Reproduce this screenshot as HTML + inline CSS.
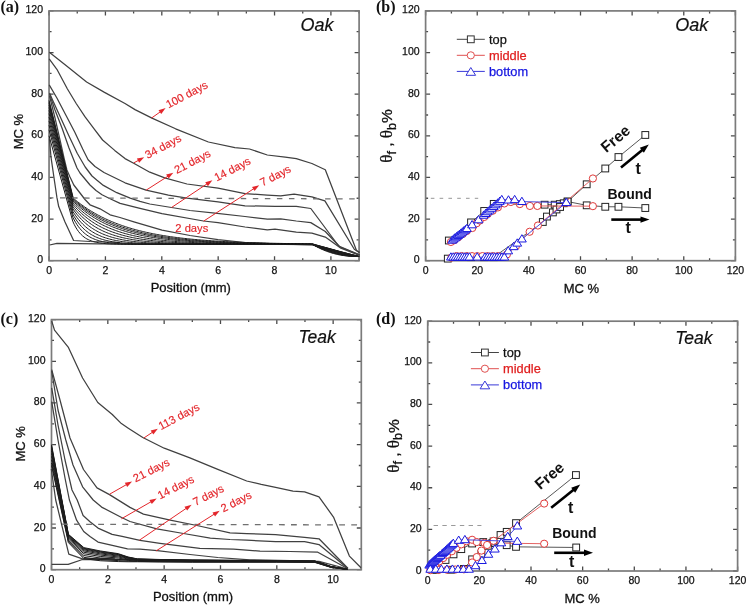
<!DOCTYPE html>
<html><head><meta charset="utf-8"><style>
html,body{margin:0;padding:0;background:#fff;}
svg{display:block;will-change:transform;}
text{font-family:"Liberation Sans", sans-serif;}
.tl{font-size:10.5px;fill:#111;stroke:#111;stroke-width:0.25px;}
.ax{font-size:13px;fill:#111;stroke:#111;stroke-width:0.3px;}
.lab{font-size:11.2px;fill:#e3262b;stroke:#e3262b;stroke-width:0.15px;}
.pl{font-family:"Liberation Serif",serif;font-weight:bold;font-size:16px;fill:#111;}
.ttl{font-size:18px;font-style:italic;fill:#111;stroke:#111;stroke-width:0.2px;}
.bd{font-size:14px;font-weight:bold;fill:#111;}
.fr{font-size:15.5px;}
.tt{font-size:16px;}
.lg{font-size:12.8px;stroke-width:0.25px;}
</style></head><body>
<svg width="747" height="605" viewBox="0 0 747 605">
<rect width="747" height="605" fill="#fff"/>
<path d="M49.05 260.70h4.5M359.10 260.70h-4.5M49.05 239.88h2.5M359.10 239.88h-2.5M49.05 219.07h4.5M359.10 219.07h-4.5M49.05 198.25h2.5M359.10 198.25h-2.5M49.05 177.43h4.5M359.10 177.43h-4.5M49.05 156.62h2.5M359.10 156.62h-2.5M49.05 135.80h4.5M359.10 135.80h-4.5M49.05 114.98h2.5M359.10 114.98h-2.5M49.05 94.17h4.5M359.10 94.17h-4.5M49.05 73.35h2.5M359.10 73.35h-2.5M49.05 52.53h4.5M359.10 52.53h-4.5M49.05 31.72h2.5M359.10 31.72h-2.5M49.05 10.90h4.5M359.10 10.90h-4.5M49.05 260.70v-4.5M49.05 10.90v4.5M77.24 260.70v-2.5M77.24 10.90v2.5M105.42 260.70v-4.5M105.42 10.90v4.5M133.61 260.70v-2.5M133.61 10.90v2.5M161.80 260.70v-4.5M161.80 10.90v4.5M189.98 260.70v-2.5M189.98 10.90v2.5M218.17 260.70v-4.5M218.17 10.90v4.5M246.35 260.70v-2.5M246.35 10.90v2.5M274.54 260.70v-4.5M274.54 10.90v4.5M302.73 260.70v-2.5M302.73 10.90v2.5M330.91 260.70v-4.5M330.91 10.90v4.5M359.10 260.70v-2.5M359.10 10.90v2.5" stroke="#4a4a4a" stroke-width="1.3" fill="none"/>
<rect x="49.05" y="10.90" width="310.05" height="249.80" fill="none" stroke="#7b7b7b" stroke-width="1.7"/>
<text x="43.05" y="263.20" text-anchor="end" class="tl">0</text>
<text x="43.05" y="221.57" text-anchor="end" class="tl">20</text>
<text x="43.05" y="179.93" text-anchor="end" class="tl">40</text>
<text x="43.05" y="138.30" text-anchor="end" class="tl">60</text>
<text x="43.05" y="96.67" text-anchor="end" class="tl">80</text>
<text x="43.05" y="55.03" text-anchor="end" class="tl">100</text>
<text x="43.05" y="13.40" text-anchor="end" class="tl">120</text>
<text x="49.05" y="273.60" text-anchor="middle" class="tl">0</text>
<text x="105.42" y="273.60" text-anchor="middle" class="tl">2</text>
<text x="161.80" y="273.60" text-anchor="middle" class="tl">4</text>
<text x="218.17" y="273.60" text-anchor="middle" class="tl">6</text>
<text x="274.54" y="273.60" text-anchor="middle" class="tl">8</text>
<text x="330.91" y="273.60" text-anchor="middle" class="tl">10</text>
<path d="M425.60 260.70h4.5M735.40 260.70h-4.5M425.60 239.88h2.5M735.40 239.88h-2.5M425.60 219.07h4.5M735.40 219.07h-4.5M425.60 198.25h2.5M735.40 198.25h-2.5M425.60 177.43h4.5M735.40 177.43h-4.5M425.60 156.62h2.5M735.40 156.62h-2.5M425.60 135.80h4.5M735.40 135.80h-4.5M425.60 114.98h2.5M735.40 114.98h-2.5M425.60 94.17h4.5M735.40 94.17h-4.5M425.60 73.35h2.5M735.40 73.35h-2.5M425.60 52.53h4.5M735.40 52.53h-4.5M425.60 31.72h2.5M735.40 31.72h-2.5M425.60 10.90h4.5M735.40 10.90h-4.5M425.60 260.70v-4.5M425.60 10.90v4.5M451.42 260.70v-2.5M451.42 10.90v2.5M477.23 260.70v-4.5M477.23 10.90v4.5M503.05 260.70v-2.5M503.05 10.90v2.5M528.87 260.70v-4.5M528.87 10.90v4.5M554.68 260.70v-2.5M554.68 10.90v2.5M580.50 260.70v-4.5M580.50 10.90v4.5M606.32 260.70v-2.5M606.32 10.90v2.5M632.13 260.70v-4.5M632.13 10.90v4.5M657.95 260.70v-2.5M657.95 10.90v2.5M683.77 260.70v-4.5M683.77 10.90v4.5M709.58 260.70v-2.5M709.58 10.90v2.5M735.40 260.70v-4.5M735.40 10.90v4.5" stroke="#4a4a4a" stroke-width="1.3" fill="none"/>
<rect x="425.60" y="10.90" width="309.80" height="249.80" fill="none" stroke="#7b7b7b" stroke-width="1.7"/>
<text x="419.60" y="263.20" text-anchor="end" class="tl">0</text>
<text x="419.60" y="221.57" text-anchor="end" class="tl">20</text>
<text x="419.60" y="179.93" text-anchor="end" class="tl">40</text>
<text x="419.60" y="138.30" text-anchor="end" class="tl">60</text>
<text x="419.60" y="96.67" text-anchor="end" class="tl">80</text>
<text x="419.60" y="55.03" text-anchor="end" class="tl">100</text>
<text x="419.60" y="13.40" text-anchor="end" class="tl">120</text>
<text x="425.60" y="273.60" text-anchor="middle" class="tl">0</text>
<text x="477.23" y="273.60" text-anchor="middle" class="tl">20</text>
<text x="528.87" y="273.60" text-anchor="middle" class="tl">40</text>
<text x="580.50" y="273.60" text-anchor="middle" class="tl">60</text>
<text x="632.13" y="273.60" text-anchor="middle" class="tl">80</text>
<text x="683.77" y="273.60" text-anchor="middle" class="tl">100</text>
<text x="735.40" y="273.60" text-anchor="middle" class="tl">120</text>
<path d="M51.50 569.70h4.5M361.30 569.70h-4.5M51.50 548.86h2.5M361.30 548.86h-2.5M51.50 528.02h4.5M361.30 528.02h-4.5M51.50 507.18h2.5M361.30 507.18h-2.5M51.50 486.33h4.5M361.30 486.33h-4.5M51.50 465.49h2.5M361.30 465.49h-2.5M51.50 444.65h4.5M361.30 444.65h-4.5M51.50 423.81h2.5M361.30 423.81h-2.5M51.50 402.97h4.5M361.30 402.97h-4.5M51.50 382.12h2.5M361.30 382.12h-2.5M51.50 361.28h4.5M361.30 361.28h-4.5M51.50 340.44h2.5M361.30 340.44h-2.5M51.50 319.60h4.5M361.30 319.60h-4.5M51.50 569.70v-4.5M51.50 319.60v4.5M79.66 569.70v-2.5M79.66 319.60v2.5M107.83 569.70v-4.5M107.83 319.60v4.5M135.99 569.70v-2.5M135.99 319.60v2.5M164.15 569.70v-4.5M164.15 319.60v4.5M192.32 569.70v-2.5M192.32 319.60v2.5M220.48 569.70v-4.5M220.48 319.60v4.5M248.65 569.70v-2.5M248.65 319.60v2.5M276.81 569.70v-4.5M276.81 319.60v4.5M304.97 569.70v-2.5M304.97 319.60v2.5M333.14 569.70v-4.5M333.14 319.60v4.5M361.30 569.70v-2.5M361.30 319.60v2.5" stroke="#4a4a4a" stroke-width="1.3" fill="none"/>
<rect x="51.50" y="319.60" width="309.80" height="250.10" fill="none" stroke="#7b7b7b" stroke-width="1.7"/>
<text x="45.50" y="572.20" text-anchor="end" class="tl">0</text>
<text x="45.50" y="530.52" text-anchor="end" class="tl">20</text>
<text x="45.50" y="488.83" text-anchor="end" class="tl">40</text>
<text x="45.50" y="447.15" text-anchor="end" class="tl">60</text>
<text x="45.50" y="405.47" text-anchor="end" class="tl">80</text>
<text x="45.50" y="363.78" text-anchor="end" class="tl">100</text>
<text x="45.50" y="322.10" text-anchor="end" class="tl">120</text>
<text x="51.50" y="582.60" text-anchor="middle" class="tl">0</text>
<text x="107.83" y="582.60" text-anchor="middle" class="tl">2</text>
<text x="164.15" y="582.60" text-anchor="middle" class="tl">4</text>
<text x="220.48" y="582.60" text-anchor="middle" class="tl">6</text>
<text x="276.81" y="582.60" text-anchor="middle" class="tl">8</text>
<text x="333.14" y="582.60" text-anchor="middle" class="tl">10</text>
<path d="M427.70 571.00h4.5M737.60 571.00h-4.5M427.70 550.18h2.5M737.60 550.18h-2.5M427.70 529.37h4.5M737.60 529.37h-4.5M427.70 508.55h2.5M737.60 508.55h-2.5M427.70 487.73h4.5M737.60 487.73h-4.5M427.70 466.92h2.5M737.60 466.92h-2.5M427.70 446.10h4.5M737.60 446.10h-4.5M427.70 425.28h2.5M737.60 425.28h-2.5M427.70 404.47h4.5M737.60 404.47h-4.5M427.70 383.65h2.5M737.60 383.65h-2.5M427.70 362.83h4.5M737.60 362.83h-4.5M427.70 342.02h2.5M737.60 342.02h-2.5M427.70 321.20h4.5M737.60 321.20h-4.5M427.70 571.00v-4.5M427.70 321.20v4.5M453.52 571.00v-2.5M453.52 321.20v2.5M479.35 571.00v-4.5M479.35 321.20v4.5M505.18 571.00v-2.5M505.18 321.20v2.5M531.00 571.00v-4.5M531.00 321.20v4.5M556.83 571.00v-2.5M556.83 321.20v2.5M582.65 571.00v-4.5M582.65 321.20v4.5M608.48 571.00v-2.5M608.48 321.20v2.5M634.30 571.00v-4.5M634.30 321.20v4.5M660.12 571.00v-2.5M660.12 321.20v2.5M685.95 571.00v-4.5M685.95 321.20v4.5M711.78 571.00v-2.5M711.78 321.20v2.5M737.60 571.00v-4.5M737.60 321.20v4.5" stroke="#4a4a4a" stroke-width="1.3" fill="none"/>
<rect x="427.70" y="321.20" width="309.90" height="249.80" fill="none" stroke="#7b7b7b" stroke-width="1.7"/>
<text x="421.70" y="573.50" text-anchor="end" class="tl">0</text>
<text x="421.70" y="531.87" text-anchor="end" class="tl">20</text>
<text x="421.70" y="490.23" text-anchor="end" class="tl">40</text>
<text x="421.70" y="448.60" text-anchor="end" class="tl">60</text>
<text x="421.70" y="406.97" text-anchor="end" class="tl">80</text>
<text x="421.70" y="365.33" text-anchor="end" class="tl">100</text>
<text x="421.70" y="323.70" text-anchor="end" class="tl">120</text>
<text x="427.70" y="583.90" text-anchor="middle" class="tl">0</text>
<text x="479.35" y="583.90" text-anchor="middle" class="tl">20</text>
<text x="531.00" y="583.90" text-anchor="middle" class="tl">40</text>
<text x="582.65" y="583.90" text-anchor="middle" class="tl">60</text>
<text x="634.30" y="583.90" text-anchor="middle" class="tl">80</text>
<text x="685.95" y="583.90" text-anchor="middle" class="tl">100</text>
<text x="737.60" y="583.90" text-anchor="middle" class="tl">120</text>
<text x="0.5" y="12" class="pl">(a)</text>
<text x="376" y="12" class="pl">(b)</text>
<text x="0.5" y="323.5" class="pl">(c)</text>
<text x="376" y="324.2" class="pl">(d)</text>
<text x="300.5" y="31.3" class="ttl">Oak</text>
<text x="675.2" y="31.3" class="ttl">Oak</text>
<text x="298.5" y="343.4" class="ttl" style="font-size:17.5px">Teak</text>
<text x="675.2" y="343.6" class="ttl" style="font-size:17.5px">Teak</text>
<text x="190.8" y="292.1" text-anchor="middle" class="ax">Position (mm)</text>
<text x="581.4" y="293.3" text-anchor="middle" class="ax">MC %</text>
<text x="193" y="600.8" text-anchor="middle" class="ax">Position (mm)</text>
<text x="582.2" y="603.1" text-anchor="middle" class="ax">MC %</text>
<text x="0" y="0" transform="translate(23.4 131.6) rotate(-90)" text-anchor="middle" class="ax">MC %</text>
<text x="0" y="0" transform="translate(24.7 443.9) rotate(-90)" text-anchor="middle" class="ax">MC %</text>
<text x="0" y="0" transform="translate(392 136) rotate(-90)" text-anchor="middle" class="ax" style="font-size:15.5px"><tspan font-family="Liberation Serif, serif" font-size="17px">&#952;</tspan><tspan dy="3.5" font-size="12.5px">f</tspan><tspan dy="-3.5"> , </tspan><tspan font-family="Liberation Serif, serif" font-size="17px">&#952;</tspan><tspan dy="3.5" font-size="12.5px">b</tspan><tspan dy="-3.5">%</tspan></text>
<text x="0" y="0" transform="translate(398.7 446) rotate(-90)" text-anchor="middle" class="ax" style="font-size:15.5px"><tspan font-family="Liberation Serif, serif" font-size="17px">&#952;</tspan><tspan dy="3.5" font-size="12.5px">f</tspan><tspan dy="-3.5"> , </tspan><tspan font-family="Liberation Serif, serif" font-size="17px">&#952;</tspan><tspan dy="3.5" font-size="12.5px">b</tspan><tspan dy="-3.5">%</tspan></text>
<path d="M49.30 52.20 L67.30 66.40 L86.60 82.00 L104.50 92.40 L125.00 103.50 L135.00 109.60 L152.00 118.10 L175.60 128.80 L208.40 142.00 L234.90 147.60 L249.50 149.00 L267.30 155.00 L285.20 157.20 L296.30 158.60 L311.90 163.50 L325.30 169.70 L356.50 250.50 L359.60 252.20" stroke="#404040" stroke-width="1.25" fill="none" stroke-linejoin="round" />
<path d="M49.20 58.90 L56.90 69.30 L67.30 88.70 L76.20 103.50 L85.10 116.90 L94.10 128.80 L102.60 140.00 L114.70 150.40 L125.00 158.60 L133.70 163.20 L149.80 172.20 L164.70 177.80 L187.00 184.00 L218.00 188.20 L245.00 193.60 L267.30 195.10 L280.70 195.80 L294.10 194.20 L311.90 196.90 L324.90 200.90 L354.30 249.30 L359.60 252.70" stroke="#404040" stroke-width="1.25" fill="none" stroke-linejoin="round" />
<path d="M49.20 84.90 L56.90 98.00 L65.80 115.00 L74.70 132.00 L82.70 149.00 L88.10 159.70 L95.00 166.50 L104.00 172.50 L125.00 182.80 L146.10 190.20 L168.40 195.10 L187.00 198.20 L218.00 201.80 L245.00 205.80 L275.00 206.40 L296.30 206.30 L310.80 208.50 L338.70 246.00 L359.60 254.90" stroke="#404040" stroke-width="1.25" fill="none" stroke-linejoin="round" />
<path d="M49.50 93.00 L53.00 100.90 L61.00 118.60 L69.10 136.20 L77.20 153.30 L85.20 167.00 L92.00 176.00 L96.70 180.00 L103.40 185.40 L116.80 192.70 L130.20 198.10 L140.00 201.40 L149.80 204.00 L171.50 207.50 L190.00 210.50 L215.00 213.10 L245.00 216.50 L267.30 219.20 L280.70 218.80 L296.30 221.00 L310.80 222.60 L325.30 231.50 L340.00 247.00 L359.60 255.00" stroke="#404040" stroke-width="1.25" fill="none" stroke-linejoin="round" />
<path d="M49.50 94.00 L55.00 110.00 L62.00 128.00 L69.00 148.00 L77.00 168.00 L80.00 173.00 L90.00 185.00 L96.00 190.50 L102.00 194.70 L110.10 198.70 L120.10 203.40 L140.00 208.40 L162.00 213.60 L203.50 221.00 L218.00 222.70 L245.00 227.00 L267.30 229.90 L275.00 229.10 L296.30 232.20 L311.90 233.10 L325.30 237.10 L340.90 248.20 L359.60 255.40" stroke="#404040" stroke-width="1.25" fill="none" stroke-linejoin="round" />
<path d="M49.50 96.00 L55.00 118.00 L60.00 140.00 L64.00 158.00 L66.90 170.00 L70.00 177.00 L73.80 185.00 L80.00 193.00 L85.00 199.50 L90.00 204.80 L100.00 208.80 L110.10 214.80 L120.00 217.50 L133.90 221.90 L162.00 230.20 L190.00 235.50 L218.00 239.60 L245.00 242.50 L275.00 243.80 L311.90 244.90 L325.30 248.20 L340.90 252.20 L359.60 256.70" stroke="#404040" stroke-width="1.25" fill="none" stroke-linejoin="round" />
<path d="M49.50 139.30 L51.00 157.20 L54.70 182.50 L56.90 197.40 L58.70 206.60 L65.00 222.00 L73.60 240.50 L90.00 241.50 L120.00 242.50" stroke="#404040" stroke-width="1.25" fill="none" stroke-linejoin="round" />
<path d="M49.60 245.00 L57.00 243.30 L100.00 243.80 L200.00 244.00 L311.90 244.50 L325.30 247.50 L340.90 252.00 L359.60 256.50" stroke="#404040" stroke-width="1.25" fill="none" stroke-linejoin="round" />
<path d="M49.05 100.41 L73.29 198.25 L74.70 199.43 L76.11 200.57 L77.52 201.69 L78.93 202.78 L80.34 203.84 L81.75 204.87 L83.16 205.88 L84.56 206.86 L85.97 207.82 L87.38 208.75 L88.79 209.66 L90.20 210.54 L91.61 211.41 L93.02 212.25 L94.43 213.07 L95.84 213.87 L97.25 214.64 L98.66 215.40 L100.07 216.14 L101.48 216.86 L102.89 217.57 L104.30 218.25 L105.70 218.92 L107.11 219.57 L108.52 220.20 L109.93 220.82 L111.34 221.42 L112.75 222.01 L114.16 222.58 L115.57 223.13 L116.98 223.68 L118.39 224.21 L119.80 224.72 L121.21 225.22 L122.62 225.71 L124.03 226.19 L125.44 226.65 L126.84 227.11 L128.25 227.55 L129.66 227.98 L131.07 228.40 L132.48 228.81 L133.89 229.21 L135.30 229.59 L136.71 229.97 L138.12 230.34 L139.53 230.70 L140.94 231.05 L142.35 231.39 L143.76 231.72 L145.17 232.05 L146.57 232.36 L147.98 232.67 L149.39 232.97 L150.80 233.26 L152.21 233.55 L153.62 233.83 L155.03 234.10 L156.44 234.36 L157.85 234.62 L159.26 234.87 L160.67 235.11 L162.08 235.35 L163.49 235.58 L164.90 235.81 L166.31 236.03 L167.71 236.24 L169.12 236.45 L170.53 236.66 L171.94 236.86 L173.35 237.05 L174.76 237.24 L176.17 237.42 L177.58 237.60 L178.99 237.78 L180.40 237.95 L181.81 238.11 L183.22 238.27 L184.63 238.43 L186.04 238.58 L187.45 238.73 L188.85 238.88 L190.26 239.02 L191.67 239.16 L193.08 239.29 L194.49 239.43 L195.90 239.55 L197.31 239.68 L198.72 239.80 L200.13 239.92 L201.54 240.04 L202.95 240.15 L204.36 240.26 L205.77 240.36 L207.18 240.47 L208.58 240.57 L209.99 240.67 L211.40 240.77 L212.81 240.86 L214.22 240.95 L215.63 241.04 L217.04 241.13 L218.45 241.21 L219.86 241.30 L221.27 241.38 L222.68 241.45 L224.09 241.53 L225.50 241.61 L226.91 241.68 L228.32 241.75 L229.72 241.82 L231.13 241.89 L232.54 241.95 L233.95 242.02 L235.36 242.08 L236.77 242.14 L238.18 242.20 L239.59 242.26 L241.00 242.31 L242.41 242.37 L243.82 242.42 L245.23 242.47 L246.64 242.52 L248.05 242.57 L249.46 242.62 L250.86 242.67 L252.27 242.71 L253.68 242.76 L255.09 242.80 L256.50 242.84 L257.91 242.88 L259.32 242.92 L260.73 242.96 L262.14 243.00 L263.55 243.04 L264.96 243.07 L266.37 243.11 L267.78 243.14 L269.19 243.18 L270.59 243.21 L272.00 243.24 L273.41 243.27 L274.82 243.30 L276.23 243.33 L277.64 243.36 L279.05 243.39 L280.46 243.42 L281.87 243.44 L283.28 243.47 L284.69 243.50 L286.10 243.52 L287.51 243.54 L288.92 243.57 L290.33 243.59 L291.73 243.61 L293.14 243.63 L294.55 243.65 L295.96 243.68 L297.37 243.70 L298.78 243.72 L300.19 243.73 L301.60 243.75 L303.01 243.77 L304.42 243.79 L305.83 243.81 L307.24 243.82 L308.65 243.84 L310.06 243.85 L311.47 243.87 L312.87 243.96 L314.28 244.36 L315.69 244.76 L317.10 245.15 L318.51 245.54 L319.92 245.94 L321.33 246.33 L322.74 246.72 L324.15 247.11 L325.56 247.50 L326.97 247.89 L328.38 248.27 L329.79 248.66 L331.20 249.04 L332.60 249.43 L334.01 249.81 L335.42 250.20 L336.83 250.58 L338.24 250.96 L339.65 251.34 L341.06 251.72 L342.47 252.10 L343.88 252.48 L345.29 252.86 L346.70 253.23 L348.11 253.61 L349.52 253.99 L350.93 254.36 L352.34 254.74 L353.74 255.11 L355.15 255.49 L356.56 255.86 L357.97 256.24" stroke="#1c1c1c" stroke-width="1.0" fill="none" stroke-linejoin="round" />
<path d="M49.05 101.83 L73.27 199.17 L74.68 200.40 L76.09 201.60 L77.50 202.77 L78.90 203.90 L80.31 205.00 L81.72 206.08 L83.13 207.12 L84.54 208.14 L85.95 209.13 L87.36 210.09 L88.77 211.03 L90.18 211.94 L91.59 212.82 L93.00 213.68 L94.41 214.52 L95.82 215.34 L97.23 216.13 L98.64 216.90 L100.04 217.65 L101.45 218.38 L102.86 219.09 L104.27 219.78 L105.68 220.45 L107.09 221.11 L108.50 221.74 L109.91 222.36 L111.32 222.96 L112.73 223.55 L114.14 224.12 L115.55 224.67 L116.96 225.21 L118.37 225.73 L119.78 226.24 L121.18 226.74 L122.59 227.22 L124.00 227.69 L125.41 228.15 L126.82 228.59 L128.23 229.03 L129.64 229.45 L131.05 229.85 L132.46 230.25 L133.87 230.64 L135.28 231.02 L136.69 231.38 L138.10 231.74 L139.51 232.08 L140.91 232.42 L142.32 232.75 L143.73 233.07 L145.14 233.38 L146.55 233.68 L147.96 233.97 L149.37 234.26 L150.78 234.54 L152.19 234.81 L153.60 235.07 L155.01 235.33 L156.42 235.57 L157.83 235.82 L159.24 236.05 L160.65 236.28 L162.05 236.50 L163.46 236.72 L164.87 236.93 L166.28 237.14 L167.69 237.34 L169.10 237.53 L170.51 237.72 L171.92 237.90 L173.33 238.08 L174.74 238.25 L176.15 238.42 L177.56 238.59 L178.97 238.75 L180.38 238.90 L181.79 239.05 L183.19 239.20 L184.60 239.34 L186.01 239.48 L187.42 239.62 L188.83 239.75 L190.24 239.88 L191.65 240.00 L193.06 240.13 L194.47 240.24 L195.88 240.36 L197.29 240.47 L198.70 240.58 L200.11 240.69 L201.52 240.79 L202.92 240.89 L204.33 240.99 L205.74 241.08 L207.15 241.17 L208.56 241.26 L209.97 241.35 L211.38 241.43 L212.79 241.52 L214.20 241.60 L215.61 241.67 L217.02 241.75 L218.43 241.82 L219.84 241.90 L221.25 241.97 L222.66 242.03 L224.06 242.10 L225.47 242.16 L226.88 242.23 L228.29 242.29 L229.70 242.35 L231.11 242.40 L232.52 242.46 L233.93 242.52 L235.34 242.57 L236.75 242.62 L238.16 242.67 L239.57 242.72 L240.98 242.77 L242.39 242.81 L243.80 242.86 L245.20 242.90 L246.61 242.94 L248.02 242.98 L249.43 243.03 L250.84 243.06 L252.25 243.10 L253.66 243.14 L255.07 243.18 L256.48 243.21 L257.89 243.24 L259.30 243.28 L260.71 243.31 L262.12 243.34 L263.53 243.37 L264.93 243.40 L266.34 243.43 L267.75 243.46 L269.16 243.49 L270.57 243.51 L271.98 243.54 L273.39 243.56 L274.80 243.59 L276.21 243.61 L277.62 243.64 L279.03 243.66 L280.44 243.68 L281.85 243.70 L283.26 243.72 L284.67 243.74 L286.07 243.76 L287.48 243.78 L288.89 243.80 L290.30 243.82 L291.71 243.83 L293.12 243.85 L294.53 243.87 L295.94 243.88 L297.35 243.90 L298.76 243.92 L300.17 243.93 L301.58 243.95 L302.99 243.96 L304.40 243.97 L305.81 243.99 L307.21 244.00 L308.62 244.01 L310.03 244.02 L311.44 244.04 L312.85 244.12 L314.26 244.53 L315.67 244.94 L317.08 245.34 L318.49 245.75 L319.90 246.15 L321.31 246.55 L322.72 246.95 L324.13 247.34 L325.54 247.74 L326.94 248.13 L328.35 248.53 L329.76 248.92 L331.17 249.31 L332.58 249.69 L333.99 250.08 L335.40 250.46 L336.81 250.85 L338.22 251.23 L339.63 251.61 L341.04 251.98 L342.45 252.36 L343.86 252.73 L345.27 253.10 L346.68 253.47 L348.08 253.84 L349.49 254.20 L350.90 254.56 L352.31 254.92 L353.72 255.27 L355.13 255.62 L356.54 255.96 L357.95 256.29" stroke="#1c1c1c" stroke-width="1.0" fill="none" stroke-linejoin="round" />
<path d="M49.05 103.24 L73.25 200.08 L74.65 201.37 L76.06 202.63 L77.47 203.85 L78.88 205.03 L80.29 206.18 L81.70 207.29 L83.11 208.38 L84.52 209.43 L85.93 210.45 L87.34 211.44 L88.75 212.40 L90.16 213.33 L91.57 214.24 L92.98 215.12 L94.38 215.98 L95.79 216.81 L97.20 217.61 L98.61 218.39 L100.02 219.15 L101.43 219.89 L102.84 220.61 L104.25 221.30 L105.66 221.97 L107.07 222.63 L108.48 223.27 L109.89 223.88 L111.30 224.48 L112.71 225.06 L114.12 225.63 L115.52 226.18 L116.93 226.71 L118.34 227.23 L119.75 227.73 L121.16 228.22 L122.57 228.69 L123.98 229.15 L125.39 229.60 L126.80 230.03 L128.21 230.45 L129.62 230.86 L131.03 231.25 L132.44 231.64 L133.85 232.01 L135.26 232.37 L136.66 232.73 L138.07 233.07 L139.48 233.40 L140.89 233.72 L142.30 234.03 L143.71 234.34 L145.12 234.63 L146.53 234.92 L147.94 235.20 L149.35 235.47 L150.76 235.73 L152.17 235.98 L153.58 236.23 L154.99 236.47 L156.39 236.70 L157.80 236.93 L159.21 237.15 L160.62 237.36 L162.03 237.57 L163.44 237.77 L164.85 237.96 L166.26 238.15 L167.67 238.34 L169.08 238.52 L170.49 238.69 L171.90 238.86 L173.31 239.02 L174.72 239.18 L176.13 239.33 L177.53 239.48 L178.94 239.63 L180.35 239.77 L181.76 239.90 L183.17 240.04 L184.58 240.17 L185.99 240.29 L187.40 240.41 L188.81 240.53 L190.22 240.65 L191.63 240.76 L193.04 240.86 L194.45 240.97 L195.86 241.07 L197.27 241.17 L198.67 241.27 L200.08 241.36 L201.49 241.45 L202.90 241.54 L204.31 241.62 L205.72 241.71 L207.13 241.79 L208.54 241.86 L209.95 241.94 L211.36 242.01 L212.77 242.08 L214.18 242.15 L215.59 242.22 L217.00 242.29 L218.40 242.35 L219.81 242.41 L221.22 242.47 L222.63 242.53 L224.04 242.59 L225.45 242.64 L226.86 242.69 L228.27 242.74 L229.68 242.79 L231.09 242.84 L232.50 242.89 L233.91 242.94 L235.32 242.98 L236.73 243.02 L238.14 243.07 L239.54 243.11 L240.95 243.15 L242.36 243.18 L243.77 243.22 L245.18 243.26 L246.59 243.29 L248.00 243.33 L249.41 243.36 L250.82 243.39 L252.23 243.42 L253.64 243.45 L255.05 243.48 L256.46 243.51 L257.87 243.54 L259.28 243.57 L260.68 243.59 L262.09 243.62 L263.50 243.64 L264.91 243.67 L266.32 243.69 L267.73 243.71 L269.14 243.73 L270.55 243.75 L271.96 243.78 L273.37 243.80 L274.78 243.82 L276.19 243.83 L277.60 243.85 L279.01 243.87 L280.41 243.89 L281.82 243.90 L283.23 243.92 L284.64 243.94 L286.05 243.95 L287.46 243.97 L288.87 243.98 L290.28 243.99 L291.69 244.01 L293.10 244.02 L294.51 244.03 L295.92 244.05 L297.33 244.06 L298.74 244.07 L300.15 244.08 L301.55 244.09 L302.96 244.10 L304.37 244.11 L305.78 244.12 L307.19 244.13 L308.60 244.14 L310.01 244.15 L311.42 244.16 L312.83 244.24 L314.24 244.66 L315.65 245.08 L317.06 245.50 L318.47 245.91 L319.88 246.32 L321.29 246.73 L322.69 247.14 L324.10 247.55 L325.51 247.95 L326.92 248.35 L328.33 248.75 L329.74 249.15 L331.15 249.54 L332.56 249.93 L333.97 250.32 L335.38 250.71 L336.79 251.09 L338.20 251.47 L339.61 251.85 L341.02 252.22 L342.42 252.60 L343.83 252.96 L345.24 253.33 L346.65 253.69 L348.06 254.04 L349.47 254.39 L350.88 254.74 L352.29 255.07 L353.70 255.40 L355.11 255.73 L356.52 256.04 L357.93 256.33" stroke="#1c1c1c" stroke-width="1.0" fill="none" stroke-linejoin="round" />
<path d="M49.05 105.01 L73.22 201.23 L74.63 202.60 L76.04 203.92 L77.44 205.21 L78.85 206.45 L80.26 207.66 L81.67 208.82 L83.08 209.95 L84.49 211.05 L85.90 212.10 L87.31 213.13 L88.72 214.12 L90.13 215.08 L91.54 216.01 L92.95 216.92 L94.36 217.79 L95.77 218.63 L97.18 219.45 L98.58 220.25 L99.99 221.01 L101.40 221.76 L102.81 222.48 L104.22 223.17 L105.63 223.85 L107.04 224.50 L108.45 225.13 L109.86 225.75 L111.27 226.34 L112.68 226.91 L114.09 227.47 L115.50 228.01 L116.91 228.53 L118.32 229.03 L119.72 229.52 L121.13 230.00 L122.54 230.45 L123.95 230.90 L125.36 231.33 L126.77 231.74 L128.18 232.15 L129.59 232.54 L131.00 232.92 L132.41 233.28 L133.82 233.64 L135.23 233.98 L136.64 234.31 L138.05 234.63 L139.45 234.94 L140.86 235.25 L142.27 235.54 L143.68 235.82 L145.09 236.09 L146.50 236.36 L147.91 236.62 L149.32 236.86 L150.73 237.11 L152.14 237.34 L153.55 237.56 L154.96 237.78 L156.37 237.99 L157.78 238.20 L159.19 238.40 L160.59 238.59 L162.00 238.78 L163.41 238.96 L164.82 239.13 L166.23 239.30 L167.64 239.46 L169.05 239.62 L170.46 239.78 L171.87 239.92 L173.28 240.07 L174.69 240.21 L176.10 240.34 L177.51 240.47 L178.92 240.60 L180.33 240.72 L181.73 240.84 L183.14 240.95 L184.55 241.07 L185.96 241.17 L187.37 241.28 L188.78 241.38 L190.19 241.48 L191.60 241.57 L193.01 241.66 L194.42 241.75 L195.83 241.84 L197.24 241.92 L198.65 242.00 L200.06 242.08 L201.46 242.15 L202.87 242.23 L204.28 242.30 L205.69 242.37 L207.10 242.43 L208.51 242.50 L209.92 242.56 L211.33 242.62 L212.74 242.68 L214.15 242.74 L215.56 242.79 L216.97 242.84 L218.38 242.89 L219.79 242.94 L221.20 242.99 L222.60 243.04 L224.01 243.08 L225.42 243.13 L226.83 243.17 L228.24 243.21 L229.65 243.25 L231.06 243.29 L232.47 243.33 L233.88 243.36 L235.29 243.40 L236.70 243.43 L238.11 243.46 L239.52 243.50 L240.93 243.53 L242.34 243.56 L243.74 243.58 L245.15 243.61 L246.56 243.64 L247.97 243.67 L249.38 243.69 L250.79 243.72 L252.20 243.74 L253.61 243.76 L255.02 243.78 L256.43 243.81 L257.84 243.83 L259.25 243.85 L260.66 243.87 L262.07 243.88 L263.47 243.90 L264.88 243.92 L266.29 243.94 L267.70 243.95 L269.11 243.97 L270.52 243.99 L271.93 244.00 L273.34 244.02 L274.75 244.03 L276.16 244.04 L277.57 244.06 L278.98 244.07 L280.39 244.08 L281.80 244.09 L283.21 244.11 L284.61 244.12 L286.02 244.13 L287.43 244.14 L288.84 244.15 L290.25 244.16 L291.66 244.17 L293.07 244.18 L294.48 244.19 L295.89 244.20 L297.30 244.20 L298.71 244.21 L300.12 244.22 L301.53 244.23 L302.94 244.24 L304.35 244.24 L305.75 244.25 L307.16 244.26 L308.57 244.26 L309.98 244.27 L311.39 244.28 L312.80 244.35 L314.21 244.78 L315.62 245.22 L317.03 245.65 L318.44 246.08 L319.85 246.51 L321.26 246.93 L322.67 247.35 L324.08 247.77 L325.48 248.18 L326.89 248.59 L328.30 249.00 L329.71 249.41 L331.12 249.81 L332.53 250.20 L333.94 250.59 L335.35 250.98 L336.76 251.37 L338.17 251.75 L339.58 252.12 L340.99 252.50 L342.40 252.86 L343.81 253.22 L345.22 253.58 L346.62 253.93 L348.03 254.27 L349.44 254.60 L350.85 254.93 L352.26 255.24 L353.67 255.55 L355.08 255.84 L356.49 256.12 L357.90 256.37" stroke="#1c1c1c" stroke-width="1.0" fill="none" stroke-linejoin="round" />
<path d="M49.05 107.49 L73.18 202.83 L74.59 204.31 L76.00 205.75 L77.41 207.13 L78.81 208.46 L80.22 209.74 L81.63 210.98 L83.04 212.17 L84.45 213.32 L85.86 214.43 L87.27 215.50 L88.68 216.54 L90.09 217.53 L91.50 218.49 L92.91 219.42 L94.32 220.31 L95.73 221.17 L97.14 222.00 L98.55 222.80 L99.95 223.57 L101.36 224.32 L102.77 225.04 L104.18 225.73 L105.59 226.40 L107.00 227.04 L108.41 227.66 L109.82 228.26 L111.23 228.84 L112.64 229.40 L114.05 229.93 L115.46 230.45 L116.87 230.95 L118.28 231.43 L119.69 231.90 L121.09 232.35 L122.50 232.78 L123.91 233.19 L125.32 233.60 L126.73 233.98 L128.14 234.36 L129.55 234.72 L130.96 235.06 L132.37 235.40 L133.78 235.72 L135.19 236.03 L136.60 236.33 L138.01 236.62 L139.42 236.90 L140.82 237.17 L142.23 237.43 L143.64 237.68 L145.05 237.93 L146.46 238.16 L147.87 238.38 L149.28 238.60 L150.69 238.81 L152.10 239.01 L153.51 239.20 L154.92 239.39 L156.33 239.57 L157.74 239.75 L159.15 239.92 L160.56 240.08 L161.96 240.23 L163.37 240.38 L164.78 240.53 L166.19 240.67 L167.60 240.81 L169.01 240.94 L170.42 241.06 L171.83 241.18 L173.24 241.30 L174.65 241.41 L176.06 241.52 L177.47 241.63 L178.88 241.73 L180.29 241.82 L181.70 241.92 L183.10 242.01 L184.51 242.10 L185.92 242.18 L187.33 242.26 L188.74 242.34 L190.15 242.42 L191.56 242.49 L192.97 242.56 L194.38 242.63 L195.79 242.69 L197.20 242.76 L198.61 242.82 L200.02 242.88 L201.43 242.93 L202.83 242.99 L204.24 243.04 L205.65 243.09 L207.06 243.14 L208.47 243.19 L209.88 243.23 L211.29 243.28 L212.70 243.32 L214.11 243.36 L215.52 243.40 L216.93 243.44 L218.34 243.47 L219.75 243.51 L221.16 243.54 L222.57 243.58 L223.97 243.61 L225.38 243.64 L226.79 243.67 L228.20 243.70 L229.61 243.72 L231.02 243.75 L232.43 243.77 L233.84 243.80 L235.25 243.82 L236.66 243.85 L238.07 243.87 L239.48 243.89 L240.89 243.91 L242.30 243.93 L243.71 243.95 L245.11 243.97 L246.52 243.98 L247.93 244.00 L249.34 244.02 L250.75 244.03 L252.16 244.05 L253.57 244.06 L254.98 244.08 L256.39 244.09 L257.80 244.10 L259.21 244.12 L260.62 244.13 L262.03 244.14 L263.44 244.15 L264.84 244.16 L266.25 244.17 L267.66 244.19 L269.07 244.20 L270.48 244.20 L271.89 244.21 L273.30 244.22 L274.71 244.23 L276.12 244.24 L277.53 244.25 L278.94 244.26 L280.35 244.26 L281.76 244.27 L283.17 244.28 L284.58 244.28 L285.98 244.29 L287.39 244.30 L288.80 244.30 L290.21 244.31 L291.62 244.31 L293.03 244.32 L294.44 244.32 L295.85 244.33 L297.26 244.33 L298.67 244.34 L300.08 244.34 L301.49 244.35 L302.90 244.35 L304.31 244.35 L305.72 244.36 L307.12 244.36 L308.53 244.37 L309.94 244.37 L311.35 244.37 L312.76 244.43 L314.17 244.90 L315.58 245.36 L316.99 245.81 L318.40 246.27 L319.81 246.72 L321.22 247.16 L322.63 247.60 L324.04 248.03 L325.45 248.46 L326.85 248.89 L328.26 249.31 L329.67 249.72 L331.08 250.13 L332.49 250.54 L333.90 250.94 L335.31 251.33 L336.72 251.71 L338.13 252.09 L339.54 252.47 L340.95 252.83 L342.36 253.19 L343.77 253.54 L345.18 253.89 L346.59 254.22 L347.99 254.54 L349.40 254.86 L350.81 255.16 L352.22 255.45 L353.63 255.72 L355.04 255.98 L356.45 256.21 L357.86 256.41" stroke="#1c1c1c" stroke-width="1.0" fill="none" stroke-linejoin="round" />
<path d="M49.05 110.32 L73.13 204.66 L74.54 206.28 L75.95 207.84 L77.36 209.33 L78.77 210.77 L80.18 212.14 L81.59 213.46 L83.00 214.72 L84.41 215.94 L85.82 217.10 L87.23 218.21 L88.63 219.29 L90.04 220.31 L91.45 221.30 L92.86 222.24 L94.27 223.15 L95.68 224.02 L97.09 224.85 L98.50 225.65 L99.91 226.42 L101.32 227.15 L102.73 227.86 L104.14 228.54 L105.55 229.19 L106.96 229.81 L108.37 230.41 L109.77 230.98 L111.18 231.53 L112.59 232.06 L114.00 232.56 L115.41 233.05 L116.82 233.51 L118.23 233.96 L119.64 234.39 L121.05 234.80 L122.46 235.19 L123.87 235.57 L125.28 235.93 L126.69 236.28 L128.10 236.61 L129.51 236.93 L130.91 237.24 L132.32 237.54 L133.73 237.82 L135.14 238.09 L136.55 238.35 L137.96 238.60 L139.37 238.84 L140.78 239.07 L142.19 239.29 L143.60 239.50 L145.01 239.70 L146.42 239.89 L147.83 240.08 L149.24 240.26 L150.64 240.43 L152.05 240.60 L153.46 240.75 L154.87 240.90 L156.28 241.05 L157.69 241.19 L159.10 241.32 L160.51 241.45 L161.92 241.57 L163.33 241.69 L164.74 241.80 L166.15 241.91 L167.56 242.02 L168.97 242.12 L170.38 242.21 L171.78 242.30 L173.19 242.39 L174.60 242.48 L176.01 242.56 L177.42 242.63 L178.83 242.71 L180.24 242.78 L181.65 242.85 L183.06 242.92 L184.47 242.98 L185.88 243.04 L187.29 243.10 L188.70 243.15 L190.11 243.21 L191.52 243.26 L192.92 243.31 L194.33 243.35 L195.74 243.40 L197.15 243.44 L198.56 243.48 L199.97 243.52 L201.38 243.56 L202.79 243.60 L204.20 243.63 L205.61 243.67 L207.02 243.70 L208.43 243.73 L209.84 243.76 L211.25 243.79 L212.65 243.82 L214.06 243.84 L215.47 243.87 L216.88 243.89 L218.29 243.92 L219.70 243.94 L221.11 243.96 L222.52 243.98 L223.93 244.00 L225.34 244.02 L226.75 244.04 L228.16 244.05 L229.57 244.07 L230.98 244.09 L232.39 244.10 L233.79 244.12 L235.20 244.13 L236.61 244.14 L238.02 244.16 L239.43 244.17 L240.84 244.18 L242.25 244.19 L243.66 244.20 L245.07 244.22 L246.48 244.23 L247.89 244.23 L249.30 244.24 L250.71 244.25 L252.12 244.26 L253.53 244.27 L254.93 244.28 L256.34 244.29 L257.75 244.29 L259.16 244.30 L260.57 244.31 L261.98 244.31 L263.39 244.32 L264.80 244.32 L266.21 244.33 L267.62 244.34 L269.03 244.34 L270.44 244.35 L271.85 244.35 L273.26 244.36 L274.66 244.36 L276.07 244.36 L277.48 244.37 L278.89 244.37 L280.30 244.38 L281.71 244.38 L283.12 244.38 L284.53 244.39 L285.94 244.39 L287.35 244.39 L288.76 244.39 L290.17 244.40 L291.58 244.40 L292.99 244.40 L294.40 244.41 L295.80 244.41 L297.21 244.41 L298.62 244.41 L300.03 244.41 L301.44 244.42 L302.85 244.42 L304.26 244.42 L305.67 244.42 L307.08 244.42 L308.49 244.42 L309.90 244.43 L311.31 244.43 L312.72 244.47 L314.13 244.97 L315.54 245.46 L316.94 245.95 L318.35 246.43 L319.76 246.91 L321.17 247.38 L322.58 247.84 L323.99 248.29 L325.40 248.74 L326.81 249.18 L328.22 249.62 L329.63 250.05 L331.04 250.47 L332.45 250.88 L333.86 251.28 L335.27 251.68 L336.67 252.07 L338.08 252.45 L339.49 252.82 L340.90 253.18 L342.31 253.53 L343.72 253.87 L345.13 254.19 L346.54 254.51 L347.95 254.81 L349.36 255.10 L350.77 255.38 L352.18 255.64 L353.59 255.88 L355.00 256.10 L356.41 256.29 L357.81 256.45" stroke="#1c1c1c" stroke-width="1.0" fill="none" stroke-linejoin="round" />
<path d="M49.05 113.51 L73.08 206.72 L74.49 208.51 L75.90 210.22 L77.31 211.84 L78.72 213.39 L80.13 214.86 L81.54 216.26 L82.95 217.60 L84.36 218.87 L85.77 220.09 L87.17 221.24 L88.58 222.34 L89.99 223.39 L91.40 224.39 L92.81 225.34 L94.22 226.25 L95.63 227.11 L97.04 227.93 L98.45 228.72 L99.86 229.46 L101.27 230.18 L102.68 230.85 L104.09 231.50 L105.50 232.11 L106.91 232.70 L108.31 233.26 L109.72 233.79 L111.13 234.29 L112.54 234.78 L113.95 235.23 L115.36 235.67 L116.77 236.09 L118.18 236.49 L119.59 236.86 L121.00 237.22 L122.41 237.57 L123.82 237.89 L125.23 238.21 L126.64 238.50 L128.05 238.79 L129.45 239.05 L130.86 239.31 L132.27 239.55 L133.68 239.79 L135.09 240.01 L136.50 240.22 L137.91 240.42 L139.32 240.61 L140.73 240.80 L142.14 240.97 L143.55 241.14 L144.96 241.29 L146.37 241.44 L147.78 241.59 L149.18 241.72 L150.59 241.85 L152.00 241.98 L153.41 242.09 L154.82 242.21 L156.23 242.31 L157.64 242.42 L159.05 242.51 L160.46 242.60 L161.87 242.69 L163.28 242.78 L164.69 242.86 L166.10 242.93 L167.51 243.01 L168.92 243.07 L170.32 243.14 L171.73 243.20 L173.14 243.26 L174.55 243.32 L175.96 243.37 L177.37 243.43 L178.78 243.47 L180.19 243.52 L181.60 243.57 L183.01 243.61 L184.42 243.65 L185.83 243.69 L187.24 243.72 L188.65 243.76 L190.06 243.79 L191.46 243.82 L192.87 243.85 L194.28 243.88 L195.69 243.91 L197.10 243.94 L198.51 243.96 L199.92 243.99 L201.33 244.01 L202.74 244.03 L204.15 244.05 L205.56 244.07 L206.97 244.09 L208.38 244.11 L209.79 244.12 L211.19 244.14 L212.60 244.15 L214.01 244.17 L215.42 244.18 L216.83 244.20 L218.24 244.21 L219.65 244.22 L221.06 244.23 L222.47 244.24 L223.88 244.25 L225.29 244.26 L226.70 244.27 L228.11 244.28 L229.52 244.29 L230.93 244.30 L232.33 244.31 L233.74 244.31 L235.15 244.32 L236.56 244.33 L237.97 244.33 L239.38 244.34 L240.79 244.35 L242.20 244.35 L243.61 244.36 L245.02 244.36 L246.43 244.37 L247.84 244.37 L249.25 244.38 L250.66 244.38 L252.07 244.38 L253.47 244.39 L254.88 244.39 L256.29 244.39 L257.70 244.40 L259.11 244.40 L260.52 244.40 L261.93 244.41 L263.34 244.41 L264.75 244.41 L266.16 244.41 L267.57 244.42 L268.98 244.42 L270.39 244.42 L271.80 244.42 L273.20 244.42 L274.61 244.43 L276.02 244.43 L277.43 244.43 L278.84 244.43 L280.25 244.43 L281.66 244.43 L283.07 244.44 L284.48 244.44 L285.89 244.44 L287.30 244.44 L288.71 244.44 L290.12 244.44 L291.53 244.44 L292.94 244.44 L294.34 244.44 L295.75 244.45 L297.16 244.45 L298.57 244.45 L299.98 244.45 L301.39 244.45 L302.80 244.45 L304.21 244.45 L305.62 244.45 L307.03 244.45 L308.44 244.45 L309.85 244.45 L311.26 244.45 L312.67 244.48 L314.08 245.02 L315.48 245.55 L316.89 246.07 L318.30 246.59 L319.71 247.09 L321.12 247.59 L322.53 248.07 L323.94 248.55 L325.35 249.02 L326.76 249.48 L328.17 249.93 L329.58 250.37 L330.99 250.81 L332.40 251.23 L333.81 251.64 L335.21 252.03 L336.62 252.42 L338.03 252.80 L339.44 253.16 L340.85 253.52 L342.26 253.85 L343.67 254.18 L345.08 254.49 L346.49 254.79 L347.90 255.07 L349.31 255.33 L350.72 255.58 L352.13 255.81 L353.54 256.02 L354.95 256.20 L356.35 256.35 L357.76 256.47" stroke="#1c1c1c" stroke-width="1.0" fill="none" stroke-linejoin="round" />
<path d="M49.05 117.04 L73.03 209.01 L74.43 211.00 L75.84 212.87 L77.25 214.64 L78.66 216.31 L80.07 217.89 L81.48 219.38 L82.89 220.78 L84.30 222.11 L85.71 223.36 L87.12 224.54 L88.53 225.66 L89.94 226.71 L91.35 227.71 L92.76 228.64 L94.17 229.53 L95.57 230.37 L96.98 231.16 L98.39 231.90 L99.80 232.61 L101.21 233.27 L102.62 233.90 L104.03 234.49 L105.44 235.05 L106.85 235.57 L108.26 236.07 L109.67 236.54 L111.08 236.99 L112.49 237.40 L113.90 237.80 L115.30 238.17 L116.71 238.53 L118.12 238.86 L119.53 239.17 L120.94 239.47 L122.35 239.75 L123.76 240.01 L125.17 240.26 L126.58 240.50 L127.99 240.72 L129.40 240.93 L130.81 241.13 L132.22 241.31 L133.63 241.49 L135.04 241.66 L136.44 241.81 L137.85 241.96 L139.26 242.10 L140.67 242.23 L142.08 242.36 L143.49 242.48 L144.90 242.59 L146.31 242.69 L147.72 242.79 L149.13 242.89 L150.54 242.97 L151.95 243.06 L153.36 243.14 L154.77 243.21 L156.18 243.28 L157.58 243.35 L158.99 243.41 L160.40 243.47 L161.81 243.52 L163.22 243.58 L164.63 243.63 L166.04 243.67 L167.45 243.72 L168.86 243.76 L170.27 243.80 L171.68 243.84 L173.09 243.87 L174.50 243.90 L175.91 243.94 L177.31 243.97 L178.72 243.99 L180.13 244.02 L181.54 244.04 L182.95 244.07 L184.36 244.09 L185.77 244.11 L187.18 244.13 L188.59 244.15 L190.00 244.17 L191.41 244.18 L192.82 244.20 L194.23 244.21 L195.64 244.23 L197.05 244.24 L198.45 244.25 L199.86 244.26 L201.27 244.28 L202.68 244.29 L204.09 244.30 L205.50 244.31 L206.91 244.31 L208.32 244.32 L209.73 244.33 L211.14 244.34 L212.55 244.35 L213.96 244.35 L215.37 244.36 L216.78 244.36 L218.19 244.37 L219.59 244.37 L221.00 244.38 L222.41 244.38 L223.82 244.39 L225.23 244.39 L226.64 244.40 L228.05 244.40 L229.46 244.40 L230.87 244.41 L232.28 244.41 L233.69 244.41 L235.10 244.42 L236.51 244.42 L237.92 244.42 L239.32 244.42 L240.73 244.43 L242.14 244.43 L243.55 244.43 L244.96 244.43 L246.37 244.43 L247.78 244.44 L249.19 244.44 L250.60 244.44 L252.01 244.44 L253.42 244.44 L254.83 244.44 L256.24 244.44 L257.65 244.44 L259.06 244.45 L260.46 244.45 L261.87 244.45 L263.28 244.45 L264.69 244.45 L266.10 244.45 L267.51 244.45 L268.92 244.45 L270.33 244.45 L271.74 244.45 L273.15 244.45 L274.56 244.45 L275.97 244.45 L277.38 244.45 L278.79 244.46 L280.20 244.46 L281.60 244.46 L283.01 244.46 L284.42 244.46 L285.83 244.46 L287.24 244.46 L288.65 244.46 L290.06 244.46 L291.47 244.46 L292.88 244.46 L294.29 244.46 L295.70 244.46 L297.11 244.46 L298.52 244.46 L299.93 244.46 L301.33 244.46 L302.74 244.46 L304.15 244.46 L305.56 244.46 L306.97 244.46 L308.38 244.46 L309.79 244.46 L311.20 244.46 L312.61 244.47 L314.02 245.05 L315.43 245.63 L316.84 246.19 L318.25 246.74 L319.66 247.28 L321.07 247.80 L322.47 248.32 L323.88 248.82 L325.29 249.31 L326.70 249.79 L328.11 250.26 L329.52 250.71 L330.93 251.15 L332.34 251.58 L333.75 251.99 L335.16 252.39 L336.57 252.78 L337.98 253.15 L339.39 253.51 L340.80 253.85 L342.21 254.17 L343.61 254.48 L345.02 254.78 L346.43 255.05 L347.84 255.31 L349.25 255.55 L350.66 255.76 L352.07 255.96 L353.48 256.14 L354.89 256.28 L356.30 256.41 L357.71 256.49 L359.12 256.54+0.00j" stroke="#1c1c1c" stroke-width="1.0" fill="none" stroke-linejoin="round" />
<path d="M49.05 120.94 L72.96 211.53 L74.37 213.74 L75.78 215.81 L77.19 217.74 L78.60 219.53 L80.01 221.21 L81.42 222.77 L82.83 224.23 L84.24 225.59 L85.65 226.86 L87.06 228.04 L88.47 229.15 L89.88 230.18 L91.28 231.14 L92.69 232.03 L94.10 232.87 L95.51 233.65 L96.92 234.37 L98.33 235.05 L99.74 235.68 L101.15 236.27 L102.56 236.83 L103.97 237.34 L105.38 237.82 L106.79 238.26 L108.20 238.68 L109.61 239.07 L111.01 239.43 L112.42 239.77 L113.83 240.09 L115.24 240.38 L116.65 240.65 L118.06 240.91 L119.47 241.15 L120.88 241.37 L122.29 241.58 L123.70 241.77 L125.11 241.95 L126.52 242.12 L127.93 242.28 L129.34 242.43 L130.75 242.56 L132.15 242.69 L133.56 242.81 L134.97 242.92 L136.38 243.03 L137.79 243.12 L139.20 243.21 L140.61 243.30 L142.02 243.37 L143.43 243.45 L144.84 243.52 L146.25 243.58 L147.66 243.64 L149.07 243.69 L150.48 243.75 L151.89 243.79 L153.29 243.84 L154.70 243.88 L156.11 243.92 L157.52 243.96 L158.93 243.99 L160.34 244.02 L161.75 244.05 L163.16 244.08 L164.57 244.11 L165.98 244.13 L167.39 244.15 L168.80 244.17 L170.21 244.19 L171.62 244.21 L173.02 244.23 L174.43 244.24 L175.84 244.26 L177.25 244.27 L178.66 244.28 L180.07 244.30 L181.48 244.31 L182.89 244.32 L184.30 244.33 L185.71 244.34 L187.12 244.35 L188.53 244.35 L189.94 244.36 L191.35 244.37 L192.76 244.37 L194.16 244.38 L195.57 244.39 L196.98 244.39 L198.39 244.40 L199.80 244.40 L201.21 244.40 L202.62 244.41 L204.03 244.41 L205.44 244.42 L206.85 244.42 L208.26 244.42 L209.67 244.42 L211.08 244.43 L212.49 244.43 L213.90 244.43 L215.30 244.43 L216.71 244.44 L218.12 244.44 L219.53 244.44 L220.94 244.44 L222.35 244.44 L223.76 244.44 L225.17 244.45 L226.58 244.45 L227.99 244.45 L229.40 244.45 L230.81 244.45 L232.22 244.45 L233.63 244.45 L235.03 244.45 L236.44 244.45 L237.85 244.45 L239.26 244.45 L240.67 244.45 L242.08 244.46 L243.49 244.46 L244.90 244.46 L246.31 244.46 L247.72 244.46 L249.13 244.46 L250.54 244.46 L251.95 244.46 L253.36 244.46 L254.77 244.46 L256.17 244.46 L257.58 244.46 L258.99 244.46 L260.40 244.46 L261.81 244.46 L263.22 244.46 L264.63 244.46 L266.04 244.46 L267.45 244.46 L268.86 244.46 L270.27 244.46 L271.68 244.46 L273.09 244.46 L274.50 244.46 L275.91 244.46 L277.31 244.46 L278.72 244.46 L280.13 244.46 L281.54 244.46 L282.95 244.46 L284.36 244.46 L285.77 244.46 L287.18 244.46 L288.59 244.46 L290.00 244.46 L291.41 244.46 L292.82 244.46 L294.23 244.46 L295.64 244.46 L297.04 244.46 L298.45 244.46 L299.86 244.46 L301.27 244.46 L302.68 244.46 L304.09 244.46 L305.50 244.46 L306.91 244.46 L308.32 244.46 L309.73 244.46 L311.14 244.46 L312.55 244.46 L313.96 245.08 L315.37 245.70 L316.78 246.30 L318.18 246.89 L319.59 247.47 L321.00 248.03 L322.41 248.57 L323.82 249.10 L325.23 249.61 L326.64 250.11 L328.05 250.59 L329.46 251.06 L330.87 251.51 L332.28 251.94 L333.69 252.35 L335.10 252.75 L336.51 253.13 L337.92 253.50 L339.32 253.84 L340.73 254.17 L342.14 254.48 L343.55 254.77 L344.96 255.04 L346.37 255.29 L347.78 255.52 L349.19 255.73 L350.60 255.92 L352.01 256.09 L353.42 256.23 L354.83 256.35 L356.24 256.45 L357.65 256.51 L359.05 256.54" stroke="#1c1c1c" stroke-width="1.0" fill="none" stroke-linejoin="round" />
<path d="M49.05 125.18 L72.90 214.28 L74.30 216.75 L75.71 219.02 L77.12 221.11 L78.53 223.02 L79.94 224.78 L81.35 226.39 L82.76 227.87 L84.17 229.23 L85.58 230.48 L86.99 231.62 L88.40 232.67 L89.81 233.64 L91.22 234.53 L92.63 235.34 L94.04 236.09 L95.44 236.77 L96.85 237.40 L98.26 237.98 L99.67 238.51 L101.08 239.00 L102.49 239.45 L103.90 239.86 L105.31 240.24 L106.72 240.58 L108.13 240.90 L109.54 241.19 L110.95 241.46 L112.36 241.71 L113.77 241.93 L115.18 242.14 L116.58 242.33 L117.99 242.50 L119.40 242.66 L120.81 242.81 L122.22 242.95 L123.63 243.07 L125.04 243.19 L126.45 243.29 L127.86 243.39 L129.27 243.47 L130.68 243.56 L132.09 243.63 L133.50 243.70 L134.91 243.76 L136.31 243.82 L137.72 243.87 L139.13 243.92 L140.54 243.96 L141.95 244.00 L143.36 244.04 L144.77 244.08 L146.18 244.11 L147.59 244.14 L149.00 244.16 L150.41 244.19 L151.82 244.21 L153.23 244.23 L154.64 244.25 L156.05 244.27 L157.45 244.28 L158.86 244.30 L160.27 244.31 L161.68 244.32 L163.09 244.34 L164.50 244.35 L165.91 244.36 L167.32 244.36 L168.73 244.37 L170.14 244.38 L171.55 244.39 L172.96 244.39 L174.37 244.40 L175.78 244.40 L177.19 244.41 L178.59 244.41 L180.00 244.42 L181.41 244.42 L182.82 244.42 L184.23 244.43 L185.64 244.43 L187.05 244.43 L188.46 244.44 L189.87 244.44 L191.28 244.44 L192.69 244.44 L194.10 244.44 L195.51 244.45 L196.92 244.45 L198.32 244.45 L199.73 244.45 L201.14 244.45 L202.55 244.45 L203.96 244.45 L205.37 244.45 L206.78 244.45 L208.19 244.45 L209.60 244.46 L211.01 244.46 L212.42 244.46 L213.83 244.46 L215.24 244.46 L216.65 244.46 L218.06 244.46 L219.46 244.46 L220.87 244.46 L222.28 244.46 L223.69 244.46 L225.10 244.46 L226.51 244.46 L227.92 244.46 L229.33 244.46 L230.74 244.46 L232.15 244.46 L233.56 244.46 L234.97 244.46 L236.38 244.46 L237.79 244.46 L239.20 244.46 L240.60 244.46 L242.01 244.46 L243.42 244.46 L244.83 244.46 L246.24 244.46 L247.65 244.46 L249.06 244.46 L250.47 244.46 L251.88 244.46 L253.29 244.46 L254.70 244.46 L256.11 244.46 L257.52 244.46 L258.93 244.46 L260.33 244.46 L261.74 244.46 L263.15 244.46 L264.56 244.46 L265.97 244.46 L267.38 244.46 L268.79 244.46 L270.20 244.46 L271.61 244.46 L273.02 244.46 L274.43 244.46 L275.84 244.46 L277.25 244.46 L278.66 244.46 L280.07 244.46 L281.47 244.46 L282.88 244.46 L284.29 244.46 L285.70 244.46 L287.11 244.46 L288.52 244.46 L289.93 244.46 L291.34 244.46 L292.75 244.46 L294.16 244.46 L295.57 244.46 L296.98 244.46 L298.39 244.46 L299.80 244.46 L301.21 244.46 L302.61 244.46 L304.02 244.46 L305.43 244.46 L306.84 244.46 L308.25 244.46 L309.66 244.46 L311.07 244.46 L312.48 244.46 L313.89 245.10 L315.30 245.77 L316.71 246.42 L318.12 247.05 L319.53 247.67 L320.94 248.26 L322.34 248.83 L323.75 249.39 L325.16 249.92 L326.57 250.44 L327.98 250.93 L329.39 251.41 L330.80 251.86 L332.21 252.30 L333.62 252.71 L335.03 253.10 L336.44 253.48 L337.85 253.83 L339.26 254.16 L340.67 254.48 L342.08 254.77 L343.48 255.04 L344.89 255.28 L346.30 255.51 L347.71 255.72 L349.12 255.90 L350.53 256.06 L351.94 256.20 L353.35 256.31 L354.76 256.41 L356.17 256.48 L357.58 256.52 L358.99 256.54" stroke="#1c1c1c" stroke-width="1.0" fill="none" stroke-linejoin="round" />
<path d="M49.05 129.78 L72.82 217.26 L74.23 220.01 L75.64 222.49 L77.05 224.71 L78.46 226.71 L79.87 228.51 L81.28 230.13 L82.69 231.58 L84.10 232.88 L85.51 234.06 L86.92 235.11 L88.32 236.06 L89.73 236.91 L91.14 237.67 L92.55 238.36 L93.96 238.98 L95.37 239.53 L96.78 240.03 L98.19 240.48 L99.60 240.89 L101.01 241.25 L102.42 241.57 L103.83 241.87 L105.24 242.13 L106.65 242.37 L108.06 242.58 L109.46 242.77 L110.87 242.94 L112.28 243.09 L113.69 243.23 L115.10 243.36 L116.51 243.47 L117.92 243.57 L119.33 243.66 L120.74 243.74 L122.15 243.81 L123.56 243.88 L124.97 243.94 L126.38 243.99 L127.79 244.04 L129.20 244.08 L130.60 244.12 L132.01 244.16 L133.42 244.19 L134.83 244.22 L136.24 244.24 L137.65 244.26 L139.06 244.28 L140.47 244.30 L141.88 244.32 L143.29 244.33 L144.70 244.35 L146.11 244.36 L147.52 244.37 L148.93 244.38 L150.33 244.39 L151.74 244.39 L153.15 244.40 L154.56 244.41 L155.97 244.41 L157.38 244.42 L158.79 244.42 L160.20 244.43 L161.61 244.43 L163.02 244.43 L164.43 244.44 L165.84 244.44 L167.25 244.44 L168.66 244.44 L170.07 244.45 L171.47 244.45 L172.88 244.45 L174.29 244.45 L175.70 244.45 L177.11 244.45 L178.52 244.45 L179.93 244.45 L181.34 244.46 L182.75 244.46 L184.16 244.46 L185.57 244.46 L186.98 244.46 L188.39 244.46 L189.80 244.46 L191.21 244.46 L192.61 244.46 L194.02 244.46 L195.43 244.46 L196.84 244.46 L198.25 244.46 L199.66 244.46 L201.07 244.46 L202.48 244.46 L203.89 244.46 L205.30 244.46 L206.71 244.46 L208.12 244.46 L209.53 244.46 L210.94 244.46 L212.34 244.46 L213.75 244.46 L215.16 244.46 L216.57 244.46 L217.98 244.46 L219.39 244.46 L220.80 244.46 L222.21 244.46 L223.62 244.46 L225.03 244.46 L226.44 244.46 L227.85 244.46 L229.26 244.46 L230.67 244.46 L232.08 244.46 L233.48 244.46 L234.89 244.46 L236.30 244.46 L237.71 244.46 L239.12 244.46 L240.53 244.46 L241.94 244.46 L243.35 244.46 L244.76 244.46 L246.17 244.46 L247.58 244.46 L248.99 244.46 L250.40 244.46 L251.81 244.46 L253.22 244.46 L254.62 244.46 L256.03 244.46 L257.44 244.46 L258.85 244.46 L260.26 244.46 L261.67 244.46 L263.08 244.46 L264.49 244.46 L265.90 244.46 L267.31 244.46 L268.72 244.46 L270.13 244.46 L271.54 244.46 L272.95 244.46 L274.35 244.46 L275.76 244.46 L277.17 244.46 L278.58 244.46 L279.99 244.46 L281.40 244.46 L282.81 244.46 L284.22 244.46 L285.63 244.46 L287.04 244.46 L288.45 244.46 L289.86 244.46 L291.27 244.46 L292.68 244.46 L294.09 244.46 L295.49 244.46 L296.90 244.46 L298.31 244.46 L299.72 244.46 L301.13 244.46 L302.54 244.46 L303.95 244.46 L305.36 244.46 L306.77 244.46 L308.18 244.46 L309.59 244.46 L311.00 244.46 L312.41 244.46 L313.82 245.11 L315.23 245.84 L316.63 246.54 L318.04 247.22 L319.45 247.87 L320.86 248.50 L322.27 249.10 L323.68 249.68 L325.09 250.24 L326.50 250.77 L327.91 251.27 L329.32 251.76 L330.73 252.22 L332.14 252.65 L333.55 253.06 L334.96 253.45 L336.36 253.81 L337.77 254.15 L339.18 254.47 L340.59 254.76 L342.00 255.03 L343.41 255.28 L344.82 255.50 L346.23 255.70 L347.64 255.88 L349.05 256.04 L350.46 256.17 L351.87 256.28 L353.28 256.38 L354.69 256.45 L356.10 256.50 L357.50 256.53 L358.91 256.54" stroke="#1c1c1c" stroke-width="1.0" fill="none" stroke-linejoin="round" />
<path d="M49.05 135.80 L72.73 221.15 L74.14 224.25 L75.55 226.94 L76.95 229.27 L78.36 231.30 L79.77 233.05 L81.18 234.57 L82.59 235.89 L84.00 237.03 L85.41 238.02 L86.82 238.88 L88.23 239.62 L89.64 240.26 L91.05 240.82 L92.46 241.31 L93.87 241.73 L95.28 242.09 L96.68 242.41 L98.09 242.68 L99.50 242.92 L100.91 243.12 L102.32 243.30 L103.73 243.46 L105.14 243.59 L106.55 243.71 L107.96 243.81 L109.37 243.89 L110.78 243.97 L112.19 244.04 L113.60 244.09 L115.01 244.14 L116.42 244.18 L117.82 244.22 L119.23 244.25 L120.64 244.28 L122.05 244.31 L123.46 244.33 L124.87 244.34 L126.28 244.36 L127.69 244.37 L129.10 244.39 L130.51 244.40 L131.92 244.41 L133.33 244.41 L134.74 244.42 L136.15 244.43 L137.56 244.43 L138.96 244.43 L140.37 244.44 L141.78 244.44 L143.19 244.44 L144.60 244.45 L146.01 244.45 L147.42 244.45 L148.83 244.45 L150.24 244.45 L151.65 244.46 L153.06 244.46 L154.47 244.46 L155.88 244.46 L157.29 244.46 L158.69 244.46 L160.10 244.46 L161.51 244.46 L162.92 244.46 L164.33 244.46 L165.74 244.46 L167.15 244.46 L168.56 244.46 L169.97 244.46 L171.38 244.46 L172.79 244.46 L174.20 244.46 L175.61 244.46 L177.02 244.46 L178.43 244.46 L179.83 244.46 L181.24 244.46 L182.65 244.46 L184.06 244.46 L185.47 244.46 L186.88 244.46 L188.29 244.46 L189.70 244.46 L191.11 244.46 L192.52 244.46 L193.93 244.46 L195.34 244.46 L196.75 244.46 L198.16 244.46 L199.57 244.46 L200.97 244.46 L202.38 244.46 L203.79 244.46 L205.20 244.46 L206.61 244.46 L208.02 244.46 L209.43 244.46 L210.84 244.46 L212.25 244.46 L213.66 244.46 L215.07 244.46 L216.48 244.46 L217.89 244.46 L219.30 244.46 L220.70 244.46 L222.11 244.46 L223.52 244.46 L224.93 244.46 L226.34 244.46 L227.75 244.46 L229.16 244.46 L230.57 244.46 L231.98 244.46 L233.39 244.46 L234.80 244.46 L236.21 244.46 L237.62 244.46 L239.03 244.46 L240.44 244.46 L241.84 244.46 L243.25 244.46 L244.66 244.46 L246.07 244.46 L247.48 244.46 L248.89 244.46 L250.30 244.46 L251.71 244.46 L253.12 244.46 L254.53 244.46 L255.94 244.46 L257.35 244.46 L258.76 244.46 L260.17 244.46 L261.58 244.46 L262.98 244.46 L264.39 244.46 L265.80 244.46 L267.21 244.46 L268.62 244.46 L270.03 244.46 L271.44 244.46 L272.85 244.46 L274.26 244.46 L275.67 244.46 L277.08 244.46 L278.49 244.46 L279.90 244.46 L281.31 244.46 L282.71 244.46 L284.12 244.46 L285.53 244.46 L286.94 244.46 L288.35 244.46 L289.76 244.46 L291.17 244.46 L292.58 244.46 L293.99 244.46 L295.40 244.46 L296.81 244.46 L298.22 244.46 L299.63 244.46 L301.04 244.46 L302.45 244.46 L303.85 244.46 L305.26 244.46 L306.67 244.46 L308.08 244.46 L309.49 244.46 L310.90 244.46 L312.31 244.46 L313.72 245.13 L315.13 245.92 L316.54 246.69 L317.95 247.42 L319.36 248.13 L320.77 248.80 L322.18 249.44 L323.59 250.04 L324.99 250.62 L326.40 251.17 L327.81 251.69 L329.22 252.17 L330.63 252.63 L332.04 253.06 L333.45 253.46 L334.86 253.84 L336.27 254.19 L337.68 254.51 L339.09 254.80 L340.50 255.07 L341.91 255.31 L343.32 255.53 L344.72 255.73 L346.13 255.90 L347.54 256.05 L348.95 256.17 L350.36 256.28 L351.77 256.36 L353.18 256.43 L354.59 256.48 L356.00 256.51 L357.41 256.53 L358.82 256.54" stroke="#1c1c1c" stroke-width="1.0" fill="none" stroke-linejoin="round" />
<path d="M49.05 197.9L359.1 198.9" stroke="#707070" stroke-width="1.3" stroke-dasharray="5.5 6.55" stroke-dashoffset="1.1"/>
<path d="M151.60 118.00L160.70 111.56" stroke="#e3262b" stroke-width="1.0"/>
<path d="M165.60 108.10L161.27 114.10L158.50 110.18Z" fill="#e3262b"/>
<text x="168.50" y="108.60" transform="rotate(-28.0 168.50 108.60)" class="lab">100 days</text>
<path d="M133.70 162.90L138.91 160.12" stroke="#e3262b" stroke-width="1.0"/>
<path d="M144.20 157.30L139.15 162.71L136.89 158.48Z" fill="#e3262b"/>
<text x="147.50" y="159.00" transform="rotate(-28.0 147.50 159.00)" class="lab">34 days</text>
<path d="M146.10 190.20L168.25 176.03" stroke="#e3262b" stroke-width="1.0"/>
<path d="M173.30 172.80L168.70 178.59L166.11 174.55Z" fill="#e3262b"/>
<text x="176.80" y="174.00" transform="rotate(-27.5 176.80 174.00)" class="lab">21 days</text>
<path d="M171.50 207.50L207.40 183.62" stroke="#e3262b" stroke-width="1.0"/>
<path d="M212.40 180.30L207.90 186.17L205.24 182.18Z" fill="#e3262b"/>
<text x="216.80" y="181.60" transform="rotate(-27.5 216.80 181.60)" class="lab">14 days</text>
<path d="M203.50 221.20L254.16 188.46" stroke="#e3262b" stroke-width="1.0"/>
<path d="M259.20 185.20L254.62 191.02L252.02 186.98Z" fill="#e3262b"/>
<text x="262.60" y="186.60" transform="rotate(-27.5 262.60 186.60)" class="lab">7 days</text>
<text x="175.3" y="231.6" class="lab">2 days</text>
<path d="M448.84 240.51 L471.04 222.40 L484.20 210.95 L493.76 203.87 L544.61 204.70 L554.68 204.70 L559.85 204.08 L563.72 203.25 L567.59 201.58 L586.70 205.33 L605.28 206.78 L618.45 206.78 L645.30 208.03" stroke="#444" stroke-width="0.9" fill="none" stroke-linejoin="round" />
<rect x="445.44" y="237.11" width="6.8" height="6.8" fill="#fff" stroke="#222" stroke-width="1"/>
<rect x="467.64" y="219.00" width="6.8" height="6.8" fill="#fff" stroke="#222" stroke-width="1"/>
<rect x="480.80" y="207.55" width="6.8" height="6.8" fill="#fff" stroke="#222" stroke-width="1"/>
<rect x="490.36" y="200.47" width="6.8" height="6.8" fill="#fff" stroke="#222" stroke-width="1"/>
<rect x="541.21" y="201.30" width="6.8" height="6.8" fill="#fff" stroke="#222" stroke-width="1"/>
<rect x="551.28" y="201.30" width="6.8" height="6.8" fill="#fff" stroke="#222" stroke-width="1"/>
<rect x="556.45" y="200.68" width="6.8" height="6.8" fill="#fff" stroke="#222" stroke-width="1"/>
<rect x="560.32" y="199.85" width="6.8" height="6.8" fill="#fff" stroke="#222" stroke-width="1"/>
<rect x="564.19" y="198.18" width="6.8" height="6.8" fill="#fff" stroke="#222" stroke-width="1"/>
<rect x="583.30" y="201.93" width="6.8" height="6.8" fill="#fff" stroke="#222" stroke-width="1"/>
<rect x="601.88" y="203.38" width="6.8" height="6.8" fill="#fff" stroke="#222" stroke-width="1"/>
<rect x="615.05" y="203.38" width="6.8" height="6.8" fill="#fff" stroke="#222" stroke-width="1"/>
<rect x="641.90" y="204.63" width="6.8" height="6.8" fill="#fff" stroke="#222" stroke-width="1"/>
<path d="M447.80 258.62 L471.04 257.16 L484.20 257.16 L493.76 257.16 L542.81 221.98 L546.94 216.57 L552.88 212.41 L556.49 209.49 L560.10 206.99 L567.59 201.58 L586.70 184.30 L605.28 168.48 L618.45 157.03 L645.30 134.97" stroke="#444" stroke-width="0.9" fill="none" stroke-linejoin="round" />
<rect x="444.40" y="255.22" width="6.8" height="6.8" fill="#fff" stroke="#222" stroke-width="1"/>
<rect x="467.64" y="253.76" width="6.8" height="6.8" fill="#fff" stroke="#222" stroke-width="1"/>
<rect x="480.80" y="253.76" width="6.8" height="6.8" fill="#fff" stroke="#222" stroke-width="1"/>
<rect x="490.36" y="253.76" width="6.8" height="6.8" fill="#fff" stroke="#222" stroke-width="1"/>
<rect x="539.41" y="218.58" width="6.8" height="6.8" fill="#fff" stroke="#222" stroke-width="1"/>
<rect x="543.54" y="213.17" width="6.8" height="6.8" fill="#fff" stroke="#222" stroke-width="1"/>
<rect x="549.48" y="209.01" width="6.8" height="6.8" fill="#fff" stroke="#222" stroke-width="1"/>
<rect x="553.09" y="206.09" width="6.8" height="6.8" fill="#fff" stroke="#222" stroke-width="1"/>
<rect x="556.70" y="203.59" width="6.8" height="6.8" fill="#fff" stroke="#222" stroke-width="1"/>
<rect x="564.19" y="198.18" width="6.8" height="6.8" fill="#fff" stroke="#222" stroke-width="1"/>
<rect x="583.30" y="180.90" width="6.8" height="6.8" fill="#fff" stroke="#222" stroke-width="1"/>
<rect x="601.88" y="165.08" width="6.8" height="6.8" fill="#fff" stroke="#222" stroke-width="1"/>
<rect x="615.05" y="153.63" width="6.8" height="6.8" fill="#fff" stroke="#222" stroke-width="1"/>
<rect x="641.90" y="131.57" width="6.8" height="6.8" fill="#fff" stroke="#222" stroke-width="1"/>
<path d="M450.90 241.96 L454.00 240.30 L458.30 237.18 L462.60 234.05 L466.91 230.93 L472.33 228.02 L476.72 223.23 L479.81 220.52 L484.20 216.98 L487.56 214.07 L492.72 210.74 L497.89 207.41 L504.34 203.45 L510.80 202.00 L519.83 204.08 L529.90 205.95 L537.39 205.95 L592.89 206.16" stroke="#e05050" stroke-width="0.9" fill="none" stroke-linejoin="round" />
<circle cx="450.90" cy="241.96" r="3.6" fill="#fff" stroke="#e03a3a" stroke-width="1"/>
<circle cx="454.00" cy="240.30" r="3.6" fill="#fff" stroke="#e03a3a" stroke-width="1"/>
<circle cx="458.30" cy="237.18" r="3.6" fill="#fff" stroke="#e03a3a" stroke-width="1"/>
<circle cx="462.60" cy="234.05" r="3.6" fill="#fff" stroke="#e03a3a" stroke-width="1"/>
<circle cx="466.91" cy="230.93" r="3.6" fill="#fff" stroke="#e03a3a" stroke-width="1"/>
<circle cx="472.33" cy="228.02" r="3.6" fill="#fff" stroke="#e03a3a" stroke-width="1"/>
<circle cx="476.72" cy="223.23" r="3.6" fill="#fff" stroke="#e03a3a" stroke-width="1"/>
<circle cx="479.81" cy="220.52" r="3.6" fill="#fff" stroke="#e03a3a" stroke-width="1"/>
<circle cx="484.20" cy="216.98" r="3.6" fill="#fff" stroke="#e03a3a" stroke-width="1"/>
<circle cx="487.56" cy="214.07" r="3.6" fill="#fff" stroke="#e03a3a" stroke-width="1"/>
<circle cx="492.72" cy="210.74" r="3.6" fill="#fff" stroke="#e03a3a" stroke-width="1"/>
<circle cx="497.89" cy="207.41" r="3.6" fill="#fff" stroke="#e03a3a" stroke-width="1"/>
<circle cx="504.34" cy="203.45" r="3.6" fill="#fff" stroke="#e03a3a" stroke-width="1"/>
<circle cx="510.80" cy="202.00" r="3.6" fill="#fff" stroke="#e03a3a" stroke-width="1"/>
<circle cx="519.83" cy="204.08" r="3.6" fill="#fff" stroke="#e03a3a" stroke-width="1"/>
<circle cx="529.90" cy="205.95" r="3.6" fill="#fff" stroke="#e03a3a" stroke-width="1"/>
<circle cx="537.39" cy="205.95" r="3.6" fill="#fff" stroke="#e03a3a" stroke-width="1"/>
<circle cx="592.89" cy="206.16" r="3.6" fill="#fff" stroke="#e03a3a" stroke-width="1"/>
<path d="M451.42 257.58 L456.58 256.12 L461.74 256.12 L466.91 256.12 L472.07 256.12 L477.23 256.12 L482.40 256.12 L487.56 256.12 L492.72 256.12 L497.89 256.12 L506.92 254.45 L515.96 246.13 L529.64 231.76 L537.90 225.52 L592.89 178.47" stroke="#e05050" stroke-width="0.9" fill="none" stroke-linejoin="round" />
<circle cx="451.42" cy="257.58" r="3.6" fill="#fff" stroke="#e03a3a" stroke-width="1"/>
<circle cx="456.58" cy="256.12" r="3.6" fill="#fff" stroke="#e03a3a" stroke-width="1"/>
<circle cx="461.74" cy="256.12" r="3.6" fill="#fff" stroke="#e03a3a" stroke-width="1"/>
<circle cx="466.91" cy="256.12" r="3.6" fill="#fff" stroke="#e03a3a" stroke-width="1"/>
<circle cx="472.07" cy="256.12" r="3.6" fill="#fff" stroke="#e03a3a" stroke-width="1"/>
<circle cx="477.23" cy="256.12" r="3.6" fill="#fff" stroke="#e03a3a" stroke-width="1"/>
<circle cx="482.40" cy="256.12" r="3.6" fill="#fff" stroke="#e03a3a" stroke-width="1"/>
<circle cx="487.56" cy="256.12" r="3.6" fill="#fff" stroke="#e03a3a" stroke-width="1"/>
<circle cx="492.72" cy="256.12" r="3.6" fill="#fff" stroke="#e03a3a" stroke-width="1"/>
<circle cx="497.89" cy="256.12" r="3.6" fill="#fff" stroke="#e03a3a" stroke-width="1"/>
<circle cx="506.92" cy="254.45" r="3.6" fill="#fff" stroke="#e03a3a" stroke-width="1"/>
<circle cx="515.96" cy="246.13" r="3.6" fill="#fff" stroke="#e03a3a" stroke-width="1"/>
<circle cx="529.64" cy="231.76" r="3.6" fill="#fff" stroke="#e03a3a" stroke-width="1"/>
<circle cx="537.90" cy="225.52" r="3.6" fill="#fff" stroke="#e03a3a" stroke-width="1"/>
<circle cx="592.89" cy="178.47" r="3.6" fill="#fff" stroke="#e03a3a" stroke-width="1"/>
<path d="M452.19 240.30 L453.66 239.13 L455.13 237.97 L456.61 236.80 L458.08 235.64 L459.55 234.47 L461.02 233.31 L462.49 232.14 L463.96 230.97 L465.44 229.81 L466.91 228.64 L472.07 224.90 L478.52 219.90 L483.69 215.32 L485.70 213.58 L487.70 211.85 L489.71 210.12 L491.72 208.38 L493.73 206.65 L495.74 204.91 L497.74 203.18 L499.75 201.44 L501.76 199.71 L508.47 200.12 L514.67 199.71 L521.90 201.58 L566.30 202.62" stroke="#3838d8" stroke-width="0.9" fill="none" stroke-linejoin="round" />
<path d="M452.19 235.92L456.59 243.22L447.79 243.22Z" fill="#fff" stroke="#1a1ae0" stroke-width="1"/>
<path d="M453.66 234.75L458.06 242.05L449.26 242.05Z" fill="#fff" stroke="#1a1ae0" stroke-width="1"/>
<path d="M455.13 233.59L459.53 240.89L450.73 240.89Z" fill="#fff" stroke="#1a1ae0" stroke-width="1"/>
<path d="M456.61 232.42L461.01 239.72L452.21 239.72Z" fill="#fff" stroke="#1a1ae0" stroke-width="1"/>
<path d="M458.08 231.26L462.48 238.56L453.68 238.56Z" fill="#fff" stroke="#1a1ae0" stroke-width="1"/>
<path d="M459.55 230.09L463.95 237.39L455.15 237.39Z" fill="#fff" stroke="#1a1ae0" stroke-width="1"/>
<path d="M461.02 228.93L465.42 236.23L456.62 236.23Z" fill="#fff" stroke="#1a1ae0" stroke-width="1"/>
<path d="M462.49 227.76L466.89 235.06L458.09 235.06Z" fill="#fff" stroke="#1a1ae0" stroke-width="1"/>
<path d="M463.96 226.59L468.36 233.89L459.56 233.89Z" fill="#fff" stroke="#1a1ae0" stroke-width="1"/>
<path d="M465.44 225.43L469.84 232.73L461.04 232.73Z" fill="#fff" stroke="#1a1ae0" stroke-width="1"/>
<path d="M466.91 224.26L471.31 231.56L462.51 231.56Z" fill="#fff" stroke="#1a1ae0" stroke-width="1"/>
<path d="M472.07 220.52L476.47 227.82L467.67 227.82Z" fill="#fff" stroke="#1a1ae0" stroke-width="1"/>
<path d="M478.52 215.52L482.92 222.82L474.12 222.82Z" fill="#fff" stroke="#1a1ae0" stroke-width="1"/>
<path d="M483.69 210.94L488.09 218.24L479.29 218.24Z" fill="#fff" stroke="#1a1ae0" stroke-width="1"/>
<path d="M485.70 209.20L490.10 216.50L481.30 216.50Z" fill="#fff" stroke="#1a1ae0" stroke-width="1"/>
<path d="M487.70 207.47L492.10 214.77L483.30 214.77Z" fill="#fff" stroke="#1a1ae0" stroke-width="1"/>
<path d="M489.71 205.74L494.11 213.04L485.31 213.04Z" fill="#fff" stroke="#1a1ae0" stroke-width="1"/>
<path d="M491.72 204.00L496.12 211.30L487.32 211.30Z" fill="#fff" stroke="#1a1ae0" stroke-width="1"/>
<path d="M493.73 202.27L498.13 209.57L489.33 209.57Z" fill="#fff" stroke="#1a1ae0" stroke-width="1"/>
<path d="M495.74 200.53L500.14 207.83L491.34 207.83Z" fill="#fff" stroke="#1a1ae0" stroke-width="1"/>
<path d="M497.74 198.80L502.14 206.10L493.34 206.10Z" fill="#fff" stroke="#1a1ae0" stroke-width="1"/>
<path d="M499.75 197.06L504.15 204.36L495.35 204.36Z" fill="#fff" stroke="#1a1ae0" stroke-width="1"/>
<path d="M501.76 195.33L506.16 202.63L497.36 202.63Z" fill="#fff" stroke="#1a1ae0" stroke-width="1"/>
<path d="M508.47 195.74L512.87 203.04L504.07 203.04Z" fill="#fff" stroke="#1a1ae0" stroke-width="1"/>
<path d="M514.67 195.33L519.07 202.63L510.27 202.63Z" fill="#fff" stroke="#1a1ae0" stroke-width="1"/>
<path d="M521.90 197.20L526.30 204.50L517.50 204.50Z" fill="#fff" stroke="#1a1ae0" stroke-width="1"/>
<path d="M566.30 198.24L570.70 205.54L561.90 205.54Z" fill="#fff" stroke="#1a1ae0" stroke-width="1"/>
<path d="M450.90 257.16 L453.22 257.16 L455.55 257.16 L457.87 257.16 L460.19 257.16 L462.52 257.16 L464.84 257.16 L467.16 257.16 L469.49 257.16 L477.23 257.16 L484.98 257.16 L487.40 257.16 L489.82 257.16 L492.24 257.16 L494.66 257.16 L497.08 257.16 L499.50 257.16 L501.92 257.16 L504.34 257.16 L508.21 250.92 L513.63 246.75 L517.25 243.21 L521.90 239.05 L566.30 202.62" stroke="#3838d8" stroke-width="0.9" fill="none" stroke-linejoin="round" />
<path d="M450.90 252.78L455.30 260.08L446.50 260.08Z" fill="#fff" stroke="#1a1ae0" stroke-width="1"/>
<path d="M453.22 252.78L457.62 260.08L448.82 260.08Z" fill="#fff" stroke="#1a1ae0" stroke-width="1"/>
<path d="M455.55 252.78L459.95 260.08L451.15 260.08Z" fill="#fff" stroke="#1a1ae0" stroke-width="1"/>
<path d="M457.87 252.78L462.27 260.08L453.47 260.08Z" fill="#fff" stroke="#1a1ae0" stroke-width="1"/>
<path d="M460.19 252.78L464.59 260.08L455.79 260.08Z" fill="#fff" stroke="#1a1ae0" stroke-width="1"/>
<path d="M462.52 252.78L466.92 260.08L458.12 260.08Z" fill="#fff" stroke="#1a1ae0" stroke-width="1"/>
<path d="M464.84 252.78L469.24 260.08L460.44 260.08Z" fill="#fff" stroke="#1a1ae0" stroke-width="1"/>
<path d="M467.16 252.78L471.56 260.08L462.76 260.08Z" fill="#fff" stroke="#1a1ae0" stroke-width="1"/>
<path d="M469.49 252.78L473.89 260.08L465.09 260.08Z" fill="#fff" stroke="#1a1ae0" stroke-width="1"/>
<path d="M477.23 252.78L481.63 260.08L472.83 260.08Z" fill="#fff" stroke="#1a1ae0" stroke-width="1"/>
<path d="M484.98 252.78L489.38 260.08L480.58 260.08Z" fill="#fff" stroke="#1a1ae0" stroke-width="1"/>
<path d="M487.40 252.78L491.80 260.08L483.00 260.08Z" fill="#fff" stroke="#1a1ae0" stroke-width="1"/>
<path d="M489.82 252.78L494.22 260.08L485.42 260.08Z" fill="#fff" stroke="#1a1ae0" stroke-width="1"/>
<path d="M492.24 252.78L496.64 260.08L487.84 260.08Z" fill="#fff" stroke="#1a1ae0" stroke-width="1"/>
<path d="M494.66 252.78L499.06 260.08L490.26 260.08Z" fill="#fff" stroke="#1a1ae0" stroke-width="1"/>
<path d="M497.08 252.78L501.48 260.08L492.68 260.08Z" fill="#fff" stroke="#1a1ae0" stroke-width="1"/>
<path d="M499.50 252.78L503.90 260.08L495.10 260.08Z" fill="#fff" stroke="#1a1ae0" stroke-width="1"/>
<path d="M501.92 252.78L506.32 260.08L497.52 260.08Z" fill="#fff" stroke="#1a1ae0" stroke-width="1"/>
<path d="M504.34 252.78L508.74 260.08L499.94 260.08Z" fill="#fff" stroke="#1a1ae0" stroke-width="1"/>
<path d="M508.21 246.54L512.61 253.84L503.81 253.84Z" fill="#fff" stroke="#1a1ae0" stroke-width="1"/>
<path d="M513.63 242.37L518.03 249.67L509.23 249.67Z" fill="#fff" stroke="#1a1ae0" stroke-width="1"/>
<path d="M517.25 238.83L521.65 246.13L512.85 246.13Z" fill="#fff" stroke="#1a1ae0" stroke-width="1"/>
<path d="M521.90 234.67L526.30 241.97L517.50 241.97Z" fill="#fff" stroke="#1a1ae0" stroke-width="1"/>
<path d="M566.30 198.24L570.70 205.54L561.90 205.54Z" fill="#fff" stroke="#1a1ae0" stroke-width="1"/>
<path d="M430.8 198.4H478.2" stroke="#ababab" stroke-width="1.2" stroke-dasharray="3.6 5.2"/>
<path d="M435.45 567.88 L445.52 559.97 L453.52 554.35 L461.27 549.14 L472.12 543.52 L483.22 542.06 L492.26 543.11 L506.72 545.19 L516.02 546.85 L576.19 547.48" stroke="#444" stroke-width="0.9" fill="none" stroke-linejoin="round" />
<rect x="432.05" y="564.48" width="6.8" height="6.8" fill="#fff" stroke="#222" stroke-width="1"/>
<rect x="442.12" y="556.57" width="6.8" height="6.8" fill="#fff" stroke="#222" stroke-width="1"/>
<rect x="450.12" y="550.95" width="6.8" height="6.8" fill="#fff" stroke="#222" stroke-width="1"/>
<rect x="457.87" y="545.74" width="6.8" height="6.8" fill="#fff" stroke="#222" stroke-width="1"/>
<rect x="468.72" y="540.12" width="6.8" height="6.8" fill="#fff" stroke="#222" stroke-width="1"/>
<rect x="479.82" y="538.66" width="6.8" height="6.8" fill="#fff" stroke="#222" stroke-width="1"/>
<rect x="488.86" y="539.71" width="6.8" height="6.8" fill="#fff" stroke="#222" stroke-width="1"/>
<rect x="503.32" y="541.79" width="6.8" height="6.8" fill="#fff" stroke="#222" stroke-width="1"/>
<rect x="512.62" y="543.45" width="6.8" height="6.8" fill="#fff" stroke="#222" stroke-width="1"/>
<rect x="572.79" y="544.08" width="6.8" height="6.8" fill="#fff" stroke="#222" stroke-width="1"/>
<path d="M435.45 569.96 L450.94 569.75 L463.86 568.92 L472.12 559.34 L481.42 553.72 L487.87 545.81 L493.55 541.44 L500.53 534.99 L506.72 531.86 L516.02 523.12 L575.94 475.04" stroke="#444" stroke-width="0.9" fill="none" stroke-linejoin="round" />
<rect x="432.05" y="566.56" width="6.8" height="6.8" fill="#fff" stroke="#222" stroke-width="1"/>
<rect x="447.54" y="566.35" width="6.8" height="6.8" fill="#fff" stroke="#222" stroke-width="1"/>
<rect x="460.46" y="565.52" width="6.8" height="6.8" fill="#fff" stroke="#222" stroke-width="1"/>
<rect x="468.72" y="555.94" width="6.8" height="6.8" fill="#fff" stroke="#222" stroke-width="1"/>
<rect x="478.02" y="550.32" width="6.8" height="6.8" fill="#fff" stroke="#222" stroke-width="1"/>
<rect x="484.47" y="542.41" width="6.8" height="6.8" fill="#fff" stroke="#222" stroke-width="1"/>
<rect x="490.15" y="538.04" width="6.8" height="6.8" fill="#fff" stroke="#222" stroke-width="1"/>
<rect x="497.13" y="531.59" width="6.8" height="6.8" fill="#fff" stroke="#222" stroke-width="1"/>
<rect x="503.32" y="528.46" width="6.8" height="6.8" fill="#fff" stroke="#222" stroke-width="1"/>
<rect x="512.62" y="519.72" width="6.8" height="6.8" fill="#fff" stroke="#222" stroke-width="1"/>
<rect x="572.54" y="471.64" width="6.8" height="6.8" fill="#fff" stroke="#222" stroke-width="1"/>
<path d="M431.57 567.88 L435.45 564.62 L439.32 561.35 L443.19 558.09 L447.07 554.76 L451.80 551.29 L456.54 547.82 L461.27 544.35 L466.44 541.23 L472.12 539.77 L476.77 542.06 L484.51 542.90 L544.17 543.73" stroke="#e05050" stroke-width="0.9" fill="none" stroke-linejoin="round" />
<circle cx="431.57" cy="567.88" r="3.6" fill="#fff" stroke="#e03a3a" stroke-width="1"/>
<circle cx="435.45" cy="564.62" r="3.6" fill="#fff" stroke="#e03a3a" stroke-width="1"/>
<circle cx="439.32" cy="561.35" r="3.6" fill="#fff" stroke="#e03a3a" stroke-width="1"/>
<circle cx="443.19" cy="558.09" r="3.6" fill="#fff" stroke="#e03a3a" stroke-width="1"/>
<circle cx="447.07" cy="554.76" r="3.6" fill="#fff" stroke="#e03a3a" stroke-width="1"/>
<circle cx="451.80" cy="551.29" r="3.6" fill="#fff" stroke="#e03a3a" stroke-width="1"/>
<circle cx="456.54" cy="547.82" r="3.6" fill="#fff" stroke="#e03a3a" stroke-width="1"/>
<circle cx="461.27" cy="544.35" r="3.6" fill="#fff" stroke="#e03a3a" stroke-width="1"/>
<circle cx="466.44" cy="541.23" r="3.6" fill="#fff" stroke="#e03a3a" stroke-width="1"/>
<circle cx="472.12" cy="539.77" r="3.6" fill="#fff" stroke="#e03a3a" stroke-width="1"/>
<circle cx="476.77" cy="542.06" r="3.6" fill="#fff" stroke="#e03a3a" stroke-width="1"/>
<circle cx="484.51" cy="542.90" r="3.6" fill="#fff" stroke="#e03a3a" stroke-width="1"/>
<circle cx="544.17" cy="543.73" r="3.6" fill="#fff" stroke="#e03a3a" stroke-width="1"/>
<path d="M430.28 570.17 L438.68 569.96 L447.07 569.75 L455.46 569.54 L463.86 569.33 L472.12 562.47 L476.77 557.05 L481.42 550.60 L487.10 544.98 L493.55 540.82 L544.17 503.55" stroke="#e05050" stroke-width="0.9" fill="none" stroke-linejoin="round" />
<circle cx="430.28" cy="570.17" r="3.6" fill="#fff" stroke="#e03a3a" stroke-width="1"/>
<circle cx="438.68" cy="569.96" r="3.6" fill="#fff" stroke="#e03a3a" stroke-width="1"/>
<circle cx="447.07" cy="569.75" r="3.6" fill="#fff" stroke="#e03a3a" stroke-width="1"/>
<circle cx="455.46" cy="569.54" r="3.6" fill="#fff" stroke="#e03a3a" stroke-width="1"/>
<circle cx="463.86" cy="569.33" r="3.6" fill="#fff" stroke="#e03a3a" stroke-width="1"/>
<circle cx="472.12" cy="562.47" r="3.6" fill="#fff" stroke="#e03a3a" stroke-width="1"/>
<circle cx="476.77" cy="557.05" r="3.6" fill="#fff" stroke="#e03a3a" stroke-width="1"/>
<circle cx="481.42" cy="550.60" r="3.6" fill="#fff" stroke="#e03a3a" stroke-width="1"/>
<circle cx="487.10" cy="544.98" r="3.6" fill="#fff" stroke="#e03a3a" stroke-width="1"/>
<circle cx="493.55" cy="540.82" r="3.6" fill="#fff" stroke="#e03a3a" stroke-width="1"/>
<circle cx="544.17" cy="503.55" r="3.6" fill="#fff" stroke="#e03a3a" stroke-width="1"/>
<path d="M429.25 565.17 L430.19 564.34 L431.13 563.51 L432.07 562.67 L433.01 561.84 L433.94 561.01 L434.88 560.18 L435.82 559.34 L436.76 558.51 L437.70 557.68 L438.64 556.84 L439.58 556.01 L440.61 555.39 L442.16 553.72 L443.39 552.60 L444.62 551.48 L445.84 550.37 L447.07 549.25 L448.30 548.13 L449.52 547.01 L450.75 545.89 L451.98 544.77 L453.27 543.52 L458.69 540.40 L464.89 539.77 L517.31 541.44" stroke="#3838d8" stroke-width="0.9" fill="none" stroke-linejoin="round" />
<path d="M429.25 560.79L433.65 568.09L424.85 568.09Z" fill="#fff" stroke="#1a1ae0" stroke-width="1"/>
<path d="M430.19 559.96L434.59 567.26L425.79 567.26Z" fill="#fff" stroke="#1a1ae0" stroke-width="1"/>
<path d="M431.13 559.13L435.53 566.43L426.73 566.43Z" fill="#fff" stroke="#1a1ae0" stroke-width="1"/>
<path d="M432.07 558.29L436.47 565.59L427.67 565.59Z" fill="#fff" stroke="#1a1ae0" stroke-width="1"/>
<path d="M433.01 557.46L437.41 564.76L428.61 564.76Z" fill="#fff" stroke="#1a1ae0" stroke-width="1"/>
<path d="M433.94 556.63L438.34 563.93L429.54 563.93Z" fill="#fff" stroke="#1a1ae0" stroke-width="1"/>
<path d="M434.88 555.80L439.28 563.10L430.48 563.10Z" fill="#fff" stroke="#1a1ae0" stroke-width="1"/>
<path d="M435.82 554.96L440.22 562.26L431.42 562.26Z" fill="#fff" stroke="#1a1ae0" stroke-width="1"/>
<path d="M436.76 554.13L441.16 561.43L432.36 561.43Z" fill="#fff" stroke="#1a1ae0" stroke-width="1"/>
<path d="M437.70 553.30L442.10 560.60L433.30 560.60Z" fill="#fff" stroke="#1a1ae0" stroke-width="1"/>
<path d="M438.64 552.46L443.04 559.76L434.24 559.76Z" fill="#fff" stroke="#1a1ae0" stroke-width="1"/>
<path d="M439.58 551.63L443.98 558.93L435.18 558.93Z" fill="#fff" stroke="#1a1ae0" stroke-width="1"/>
<path d="M440.61 551.01L445.01 558.31L436.21 558.31Z" fill="#fff" stroke="#1a1ae0" stroke-width="1"/>
<path d="M442.16 549.34L446.56 556.64L437.76 556.64Z" fill="#fff" stroke="#1a1ae0" stroke-width="1"/>
<path d="M443.39 548.22L447.79 555.52L438.99 555.52Z" fill="#fff" stroke="#1a1ae0" stroke-width="1"/>
<path d="M444.62 547.10L449.02 554.40L440.22 554.40Z" fill="#fff" stroke="#1a1ae0" stroke-width="1"/>
<path d="M445.84 545.99L450.24 553.29L441.44 553.29Z" fill="#fff" stroke="#1a1ae0" stroke-width="1"/>
<path d="M447.07 544.87L451.47 552.17L442.67 552.17Z" fill="#fff" stroke="#1a1ae0" stroke-width="1"/>
<path d="M448.30 543.75L452.70 551.05L443.90 551.05Z" fill="#fff" stroke="#1a1ae0" stroke-width="1"/>
<path d="M449.52 542.63L453.92 549.93L445.12 549.93Z" fill="#fff" stroke="#1a1ae0" stroke-width="1"/>
<path d="M450.75 541.51L455.15 548.81L446.35 548.81Z" fill="#fff" stroke="#1a1ae0" stroke-width="1"/>
<path d="M451.98 540.39L456.38 547.69L447.58 547.69Z" fill="#fff" stroke="#1a1ae0" stroke-width="1"/>
<path d="M453.27 539.14L457.67 546.44L448.87 546.44Z" fill="#fff" stroke="#1a1ae0" stroke-width="1"/>
<path d="M458.69 536.02L463.09 543.32L454.29 543.32Z" fill="#fff" stroke="#1a1ae0" stroke-width="1"/>
<path d="M464.89 535.39L469.29 542.69L460.49 542.69Z" fill="#fff" stroke="#1a1ae0" stroke-width="1"/>
<path d="M517.31 537.06L521.71 544.36L512.91 544.36Z" fill="#fff" stroke="#1a1ae0" stroke-width="1"/>
<path d="M430.28 569.33 L435.82 569.33 L441.35 569.33 L446.88 569.33 L452.42 569.33 L457.95 569.33 L463.49 569.33 L469.02 569.33 L475.48 565.80 L481.93 560.59 L488.39 554.35 L494.85 549.14 L501.30 542.90 L507.76 536.65 L517.31 526.04" stroke="#3838d8" stroke-width="0.9" fill="none" stroke-linejoin="round" />
<path d="M430.28 564.95L434.68 572.25L425.88 572.25Z" fill="#fff" stroke="#1a1ae0" stroke-width="1"/>
<path d="M435.82 564.95L440.22 572.25L431.42 572.25Z" fill="#fff" stroke="#1a1ae0" stroke-width="1"/>
<path d="M441.35 564.95L445.75 572.25L436.95 572.25Z" fill="#fff" stroke="#1a1ae0" stroke-width="1"/>
<path d="M446.88 564.95L451.28 572.25L442.48 572.25Z" fill="#fff" stroke="#1a1ae0" stroke-width="1"/>
<path d="M452.42 564.95L456.82 572.25L448.02 572.25Z" fill="#fff" stroke="#1a1ae0" stroke-width="1"/>
<path d="M457.95 564.95L462.35 572.25L453.55 572.25Z" fill="#fff" stroke="#1a1ae0" stroke-width="1"/>
<path d="M463.49 564.95L467.89 572.25L459.09 572.25Z" fill="#fff" stroke="#1a1ae0" stroke-width="1"/>
<path d="M469.02 564.95L473.42 572.25L464.62 572.25Z" fill="#fff" stroke="#1a1ae0" stroke-width="1"/>
<path d="M475.48 561.42L479.88 568.72L471.08 568.72Z" fill="#fff" stroke="#1a1ae0" stroke-width="1"/>
<path d="M481.93 556.21L486.33 563.51L477.53 563.51Z" fill="#fff" stroke="#1a1ae0" stroke-width="1"/>
<path d="M488.39 549.97L492.79 557.27L483.99 557.27Z" fill="#fff" stroke="#1a1ae0" stroke-width="1"/>
<path d="M494.85 544.76L499.25 552.06L490.45 552.06Z" fill="#fff" stroke="#1a1ae0" stroke-width="1"/>
<path d="M501.30 538.52L505.70 545.82L496.90 545.82Z" fill="#fff" stroke="#1a1ae0" stroke-width="1"/>
<path d="M507.76 532.27L512.16 539.57L503.36 539.57Z" fill="#fff" stroke="#1a1ae0" stroke-width="1"/>
<path d="M517.31 521.66L521.71 528.96L512.91 528.96Z" fill="#fff" stroke="#1a1ae0" stroke-width="1"/>
<path d="M433.6 525.5H481.4" stroke="#9a9a9a" stroke-width="1.2" stroke-dasharray="4.4 4.35"/>
<path d="M456.8 39.3H484.8" stroke="#444" stroke-width="1"/>
<rect x="467.40" y="35.90" width="6.8" height="6.8" fill="#fff" stroke="#333" stroke-width="1"/>
<text x="489.0" y="43.7" class="lg" fill="#111" stroke="#111">top</text>
<path d="M456.8 55.3H484.8" stroke="#e05050" stroke-width="1"/>
<circle cx="470.80" cy="55.35" r="3.6" fill="#fff" stroke="#e05050" stroke-width="1"/>
<text x="489.0" y="59.7" class="lg" fill="#e02020" stroke="#e02020">middle</text>
<path d="M456.8 71.4H484.8" stroke="#3838d8" stroke-width="1"/>
<path d="M470.80 67.52L475.60 75.32L466.00 75.32Z" fill="#fff" stroke="#3838d8" stroke-width="1"/>
<text x="489.0" y="75.8" class="lg" fill="#1515e0" stroke="#1515e0">bottom</text>
<path d="M470.9 352.5H498.9" stroke="#444" stroke-width="1"/>
<rect x="481.50" y="349.10" width="6.8" height="6.8" fill="#fff" stroke="#333" stroke-width="1"/>
<text x="503.1" y="356.9" class="lg" fill="#111" stroke="#111">top</text>
<path d="M470.9 368.7H498.9" stroke="#e05050" stroke-width="1"/>
<circle cx="484.90" cy="368.70" r="3.6" fill="#fff" stroke="#e05050" stroke-width="1"/>
<text x="503.1" y="373.1" class="lg" fill="#e02020" stroke="#e02020">middle</text>
<path d="M470.9 384.9H498.9" stroke="#3838d8" stroke-width="1"/>
<path d="M484.90 381.02L489.70 388.82L480.10 388.82Z" fill="#fff" stroke="#3838d8" stroke-width="1"/>
<text x="503.1" y="389.3" class="lg" fill="#1515e0" stroke="#1515e0">bottom</text>
<text x="606.30" y="153.30" transform="rotate(-40.0 606.30 153.30)" class="bd fr">Free</text>
<path d="M621.00 167.50L642.63 149.69" stroke="#000" stroke-width="2.6"/>
<path d="M648.80 144.60L643.89 152.79L639.82 147.85Z" fill="#000"/>
<text x="635.6" y="173.6" class="bd tt">t</text>
<text x="607.5" y="198.6" class="bd">Bound</text>
<path d="M611.30 219.60L641.50 219.60" stroke="#000" stroke-width="2.6"/>
<path d="M649.50 219.60L640.50 222.80L640.50 216.40Z" fill="#000"/>
<text x="625.4" y="233.2" class="bd tt">t</text>
<text x="540.30" y="490.30" transform="rotate(-40.0 540.30 490.30)" class="bd fr">Free</text>
<path d="M551.20 507.80L573.95 489.60" stroke="#000" stroke-width="2.6"/>
<path d="M580.20 484.60L575.17 492.72L571.17 487.72Z" fill="#000"/>
<text x="568" y="512.5" class="bd tt">t</text>
<text x="552.2" y="538.4" class="bd">Bound</text>
<path d="M554.20 552.80L585.00 552.80" stroke="#000" stroke-width="2.6"/>
<path d="M593.00 552.80L584.00 556.00L584.00 549.60Z" fill="#000"/>
<text x="569" y="567.3" class="bd tt">t</text>
<path d="M51.70 321.00 L54.50 330.10 L68.20 347.10 L82.60 378.00 L97.80 402.50 L112.30 414.50 L121.40 423.60 L128.30 428.20 L142.80 437.50 L164.20 448.20 L189.90 457.80 L217.80 469.40 L246.70 481.00 L261.20 484.40 L275.60 487.30 L293.00 491.10 L304.60 491.90 L319.00 496.80 L333.50 517.10 L349.40 556.10 L361.00 567.70" stroke="#404040" stroke-width="1.25" fill="none" stroke-linejoin="round" />
<path d="M51.70 369.60 L60.00 400.00 L70.00 438.00 L83.50 469.50 L97.00 487.90 L109.50 494.60 L130.00 507.40 L143.40 514.10 L170.20 520.10 L196.90 525.50 L230.00 532.80 L246.70 533.60 L275.60 534.70 L304.60 537.30 L319.00 538.80 L347.90 568.30" stroke="#404040" stroke-width="1.25" fill="none" stroke-linejoin="round" />
<path d="M51.70 371.00 L58.00 410.00 L65.80 440.00 L73.00 465.00 L82.60 486.80 L93.20 500.00 L101.60 507.10 L121.60 517.50 L130.00 521.50 L156.80 528.80 L183.50 533.50 L210.30 538.20 L230.00 539.50 L246.70 540.20 L275.60 541.70 L304.60 541.70 L319.00 544.60 L347.90 568.50" stroke="#404040" stroke-width="1.25" fill="none" stroke-linejoin="round" />
<path d="M51.70 387.80 L58.00 425.00 L65.00 460.00 L72.00 490.00 L77.20 500.00 L83.10 515.50 L90.00 521.70 L98.00 528.10 L112.10 534.40 L122.10 536.40 L140.00 540.40 L160.00 543.30 L199.80 548.40 L233.60 549.10 L260.00 551.20 L290.00 551.50 L317.80 552.20 L347.90 568.80" stroke="#404040" stroke-width="1.25" fill="none" stroke-linejoin="round" />
<path d="M51.70 401.70 L58.00 440.00 L65.00 478.00 L69.40 500.00 L76.60 520.20 L83.70 531.50 L90.00 536.40 L98.00 542.10 L110.10 544.80 L127.50 548.80 L140.00 549.10 L157.30 550.60 L190.00 554.50 L217.80 557.50 L250.00 559.80 L290.00 560.60 L319.00 561.30 L347.90 569.00" stroke="#404040" stroke-width="1.25" fill="none" stroke-linejoin="round" />
<path d="M51.30 469.00 L55.70 500.00 L68.80 554.20 L82.50 558.90 L114.90 558.20" stroke="#404040" stroke-width="1.25" fill="none" stroke-linejoin="round" />
<path d="M51.60 564.30 L68.20 564.30 L82.50 559.50 L114.90 559.50 L200.00 560.00 L319.00 561.90 L333.50 567.70 L347.90 569.10" stroke="#404040" stroke-width="1.25" fill="none" stroke-linejoin="round" />
<path d="M51.50 444.65 L68.40 534.27 L83.89 547.61 L100.22 550.94 L118.25 553.65 L128.11 556.99 L137.40 558.86 L159.93 559.49 L192.32 560.11 L276.81 560.53 L314.83 560.95 L330.32 566.37 L347.22 569.28" stroke="#1c1c1c" stroke-width="1.0" fill="none" stroke-linejoin="round" />
<path d="M51.50 445.90 L68.40 534.77 L83.89 548.27 L100.22 551.53 L118.25 554.13 L128.11 557.27 L137.40 559.04 L159.93 559.64 L192.32 560.24 L276.81 560.63 L314.83 561.03 L330.32 566.42 L347.22 569.30" stroke="#1c1c1c" stroke-width="1.0" fill="none" stroke-linejoin="round" />
<path d="M51.50 447.15 L68.40 535.27 L83.89 548.93 L100.22 552.12 L118.25 554.60 L128.11 557.56 L137.40 559.21 L159.93 559.79 L192.32 560.36 L276.81 560.73 L314.83 561.12 L330.32 566.47 L347.22 569.31" stroke="#1c1c1c" stroke-width="1.0" fill="none" stroke-linejoin="round" />
<path d="M51.50 448.82 L68.40 535.94 L83.89 549.82 L100.22 552.90 L118.25 555.24 L128.11 557.95 L137.40 559.45 L159.93 559.99 L192.32 560.53 L276.81 560.86 L314.83 561.24 L330.32 566.53 L347.22 569.32" stroke="#1c1c1c" stroke-width="1.0" fill="none" stroke-linejoin="round" />
<path d="M51.50 450.90 L68.40 536.77 L83.89 550.92 L100.22 553.88 L118.25 556.03 L128.11 558.42 L137.40 559.74 L159.93 560.24 L192.32 560.74 L276.81 561.03 L314.83 561.38 L330.32 566.62 L347.22 569.35" stroke="#1c1c1c" stroke-width="1.0" fill="none" stroke-linejoin="round" />
<path d="M51.50 453.40 L68.40 537.77 L83.89 552.25 L100.22 555.06 L118.25 556.98 L128.11 559.00 L137.40 560.09 L159.93 560.54 L192.32 560.99 L276.81 561.23 L314.83 561.56 L330.32 566.72 L347.22 569.37" stroke="#1c1c1c" stroke-width="1.0" fill="none" stroke-linejoin="round" />
<path d="M51.50 456.32 L68.40 538.94 L83.89 553.79 L100.22 556.43 L118.25 558.09 L128.11 559.67 L137.40 560.50 L159.93 560.89 L192.32 561.28 L276.81 561.46 L314.83 561.76 L330.32 566.83 L347.22 569.40" stroke="#1c1c1c" stroke-width="1.0" fill="none" stroke-linejoin="round" />
<path d="M51.50 459.66 L68.40 540.27 L83.89 555.56 L100.22 558.00 L118.25 559.35 L128.11 560.44 L137.40 560.96 L159.93 561.29 L192.32 561.61 L276.81 561.73 L314.83 562.00 L330.32 566.97 L347.22 569.43" stroke="#1c1c1c" stroke-width="1.0" fill="none" stroke-linejoin="round" />
<path d="M51.50 462.99 L68.40 541.61 L83.89 557.33 L100.22 559.56 L118.25 560.62 L128.11 561.20 L137.40 561.43 L159.93 561.69 L192.32 561.95 L276.81 562.00 L314.83 562.23 L330.32 567.10 L347.22 569.47" stroke="#1c1c1c" stroke-width="1.0" fill="none" stroke-linejoin="round" />
<path d="M51.50 465.49 L68.40 542.61 L83.89 558.65 L100.22 560.74 L118.25 561.57 L128.11 561.78 L137.40 561.78 L159.93 561.99 L192.32 562.20 L276.81 562.20 L314.83 562.41 L330.32 567.20 L347.22 569.49" stroke="#1c1c1c" stroke-width="1.0" fill="none" stroke-linejoin="round" />
<path d="M51.5 524.2L361.3 524.9" stroke="#707070" stroke-width="1.3" stroke-dasharray="5.8 6.25" stroke-dashoffset="1.5"/>
<path d="M143.70 438.10L152.81 432.03" stroke="#e3262b" stroke-width="1.0"/>
<path d="M157.80 428.70L153.31 434.58L150.64 430.59Z" fill="#e3262b"/>
<text x="161.00" y="430.20" transform="rotate(-28.0 161.00 430.20)" class="lab">113 days</text>
<path d="M109.60 494.20L126.88 484.37" stroke="#e3262b" stroke-width="1.0"/>
<path d="M132.10 481.40L127.20 486.95L124.83 482.78Z" fill="#e3262b"/>
<text x="135.60" y="482.40" transform="rotate(-27.0 135.60 482.40)" class="lab">21 days</text>
<path d="M121.40 518.80L151.50 501.49" stroke="#e3262b" stroke-width="1.0"/>
<path d="M156.70 498.50L151.83 504.07L149.44 499.91Z" fill="#e3262b"/>
<text x="160.00" y="499.40" transform="rotate(-27.0 160.00 499.40)" class="lab">14 days</text>
<path d="M139.40 540.20L186.64 508.07" stroke="#e3262b" stroke-width="1.0"/>
<path d="M191.60 504.70L187.16 510.62L184.46 506.65Z" fill="#e3262b"/>
<text x="195.40" y="505.90" transform="rotate(-27.0 195.40 505.90)" class="lab">7 days</text>
<path d="M156.10 550.90L214.63 513.91" stroke="#e3262b" stroke-width="1.0"/>
<path d="M219.70 510.70L215.07 516.47L212.50 512.41Z" fill="#e3262b"/>
<text x="223.20" y="512.40" transform="rotate(-27.0 223.20 512.40)" class="lab">2 days</text>
</svg>
</body></html>
